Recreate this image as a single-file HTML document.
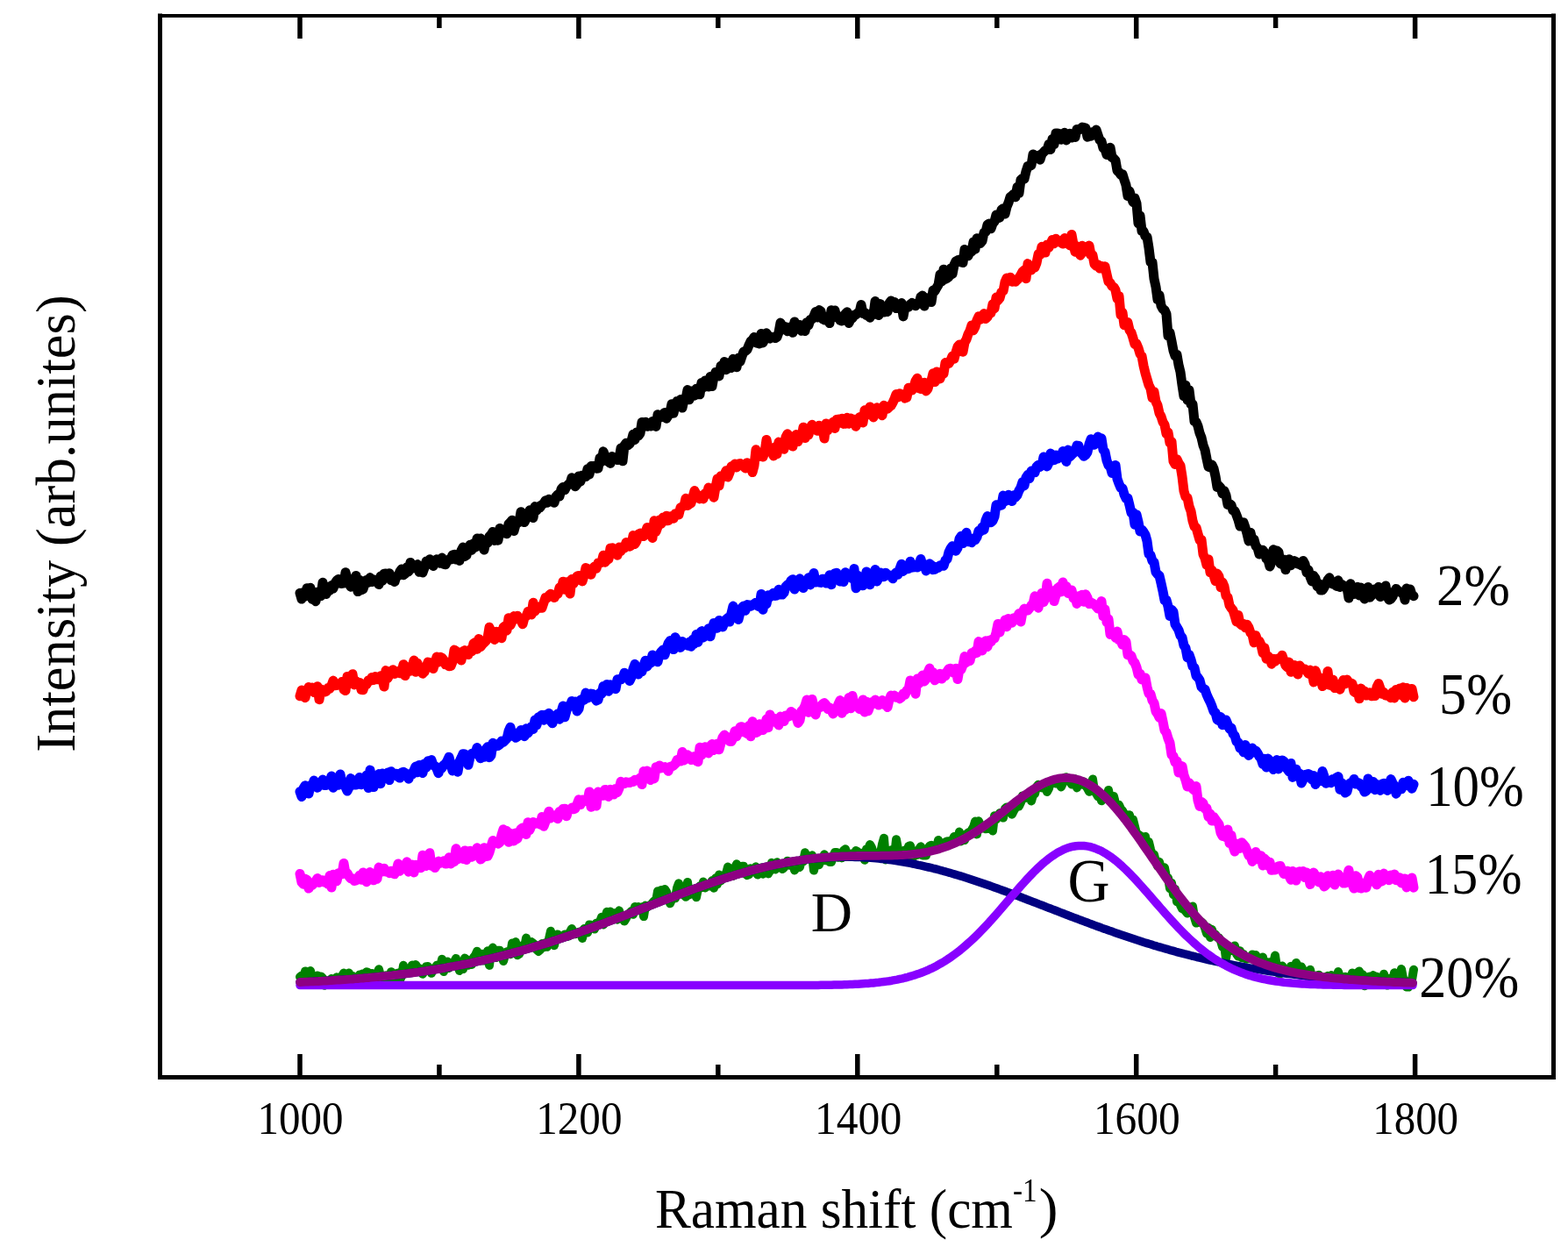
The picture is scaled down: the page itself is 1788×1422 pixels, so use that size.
<!DOCTYPE html>
<html><head><meta charset="utf-8"><style>
html,body{margin:0;padding:0;background:#fff;overflow:hidden}
svg{display:block}
text{font-family:"Liberation Serif","Times New Roman",serif;fill:#000}
</style></head><body>
<svg width="1788" height="1422" viewBox="0 0 1788 1422">
<rect width="1788" height="1422" fill="#fff"/>
<g fill="none" stroke-linejoin="round" stroke-linecap="round">
<path d="M342.0 676.2 L344.0 683.1 L346.0 675.6 L348.0 680.0 L350.0 670.7 L352.0 675.9 L354.0 670.3 L356.0 683.4 L358.0 680.1 L360.0 685.7 L362.0 675.3 L364.0 675.0 L366.0 679.6 L368.0 664.3 L370.0 670.7 L372.0 677.5 L374.0 672.7 L376.0 673.4 L378.0 667.6 L380.0 671.1 L382.0 665.1 L384.0 662.0 L386.0 660.5 L388.0 665.3 L390.0 665.4 L392.0 665.1 L394.0 652.8 L396.0 659.4 L398.0 665.8 L400.0 669.2 L402.0 664.8 L404.0 662.8 L406.0 656.5 L408.0 674.6 L410.0 661.4 L412.0 672.9 L414.0 671.9 L416.0 665.7 L418.0 661.4 L420.0 664.2 L422.0 658.6 L424.0 663.6 L426.0 660.9 L428.0 662.0 L430.0 663.3 L432.0 666.5 L434.0 657.1 L436.0 662.4 L438.0 654.2 L440.0 654.0 L442.0 655.5 L444.0 653.7 L446.0 661.7 L448.0 661.8 L450.0 663.5 L452.0 657.1 L454.0 656.7 L456.0 651.7 L458.0 648.9 L460.0 655.7 L462.0 654.3 L464.0 646.7 L466.0 651.8 L468.0 641.4 L470.0 648.3 L472.0 646.4 L474.0 646.3 L476.0 643.6 L478.0 652.3 L480.0 650.8 L482.0 652.9 L484.0 647.4 L486.0 640.1 L488.0 642.6 L490.0 637.7 L492.0 643.1 L494.0 645.5 L496.0 641.6 L498.0 637.8 L500.0 639.2 L502.0 642.3 L504.0 636.1 L506.0 643.4 L508.0 643.7 L510.0 639.7 L512.0 638.0 L514.0 638.1 L516.0 632.8 L518.0 632.4 L520.0 638.1 L522.0 634.4 L524.0 639.5 L526.0 627.9 L528.0 624.1 L530.0 634.5 L532.0 633.2 L534.0 625.0 L536.0 621.3 L538.0 627.2 L540.0 619.7 L542.0 624.1 L544.0 614.0 L546.0 621.1 L548.0 613.9 L550.0 621.8 L552.0 627.1 L554.0 616.9 L556.0 619.2 L558.0 611.8 L560.0 609.6 L562.0 606.4 L564.0 616.4 L566.0 610.7 L568.0 616.2 L570.0 602.5 L572.0 604.5 L574.0 604.1 L576.0 608.2 L578.0 608.7 L580.0 597.6 L582.0 595.5 L584.0 593.2 L586.0 605.6 L588.0 598.4 L590.0 594.5 L592.0 595.5 L594.0 583.7 L596.0 586.0 L598.0 595.6 L600.0 591.6 L602.0 588.7 L604.0 581.7 L606.0 586.4 L608.0 590.5 L610.0 577.6 L612.0 582.0 L614.0 577.9 L616.0 578.6 L618.0 575.4 L620.0 574.2 L622.0 570.7 L624.0 573.2 L626.0 569.3 L628.0 570.7 L630.0 570.8 L632.0 573.3 L634.0 566.2 L636.0 564.0 L638.0 566.1 L640.0 557.7 L642.0 555.5 L644.0 558.8 L646.0 554.8 L648.0 552.4 L650.0 551.6 L652.0 544.7 L654.0 551.2 L656.0 554.7 L658.0 552.1 L660.0 542.9 L662.0 549.1 L664.0 542.1 L666.0 543.5 L668.0 543.4 L670.0 534.7 L672.0 541.0 L674.0 531.5 L676.0 533.0 L678.0 531.3 L680.0 534.3 L682.0 534.0 L684.0 522.3 L686.0 526.6 L688.0 514.8 L690.0 520.4 L692.0 525.4 L694.0 526.9 L696.0 528.4 L698.0 520.6 L700.0 523.0 L702.0 521.5 L704.0 524.6 L706.0 522.7 L708.0 511.1 L710.0 525.8 L712.0 508.0 L714.0 505.2 L716.0 507.8 L718.0 506.2 L720.0 502.8 L722.0 495.2 L724.0 501.5 L726.0 493.0 L728.0 496.9 L730.0 494.2 L732.0 481.4 L734.0 481.8 L736.0 481.3 L738.0 486.3 L740.0 485.3 L742.0 485.8 L744.0 480.5 L746.0 484.2 L748.0 486.4 L750.0 472.7 L752.0 475.5 L754.0 475.7 L756.0 472.4 L758.0 470.4 L760.0 477.3 L762.0 473.9 L764.0 470.1 L766.0 460.7 L768.0 471.2 L770.0 462.4 L772.0 457.6 L774.0 457.6 L776.0 455.6 L778.0 465.1 L780.0 455.9 L782.0 454.6 L784.0 444.6 L786.0 455.8 L788.0 447.2 L790.0 445.7 L792.0 451.2 L794.0 443.3 L796.0 449.4 L798.0 449.8 L800.0 436.4 L802.0 441.8 L804.0 434.1 L806.0 438.8 L808.0 441.1 L810.0 429.5 L812.0 440.5 L814.0 429.6 L816.0 424.4 L818.0 427.2 L820.0 428.9 L822.0 417.3 L824.0 420.6 L826.0 412.5 L828.0 421.7 L830.0 416.4 L832.0 413.5 L834.0 419.5 L836.0 409.3 L838.0 411.7 L840.0 418.8 L842.0 408.2 L844.0 412.4 L846.0 406.2 L848.0 401.0 L850.0 400.4 L852.0 398.6 L854.0 393.6 L856.0 389.2 L858.0 387.7 L860.0 384.4 L862.0 390.9 L864.0 391.3 L866.0 391.9 L868.0 380.4 L870.0 390.9 L872.0 386.9 L874.0 379.8 L876.0 384.4 L878.0 386.0 L880.0 384.2 L882.0 384.9 L884.0 385.6 L886.0 384.5 L888.0 378.9 L890.0 368.1 L892.0 371.8 L894.0 375.8 L896.0 372.8 L898.0 377.8 L900.0 377.2 L902.0 372.5 L904.0 379.3 L906.0 367.0 L908.0 375.4 L910.0 370.5 L912.0 370.5 L914.0 377.3 L916.0 372.3 L918.0 377.6 L920.0 367.7 L922.0 370.8 L924.0 364.5 L926.0 363.9 L928.0 360.5 L930.0 355.5 L932.0 361.9 L934.0 353.6 L936.0 354.9 L938.0 363.7 L940.0 364.9 L942.0 363.6 L944.0 361.3 L946.0 368.6 L948.0 353.7 L950.0 355.3 L952.0 354.0 L954.0 362.1 L956.0 360.4 L958.0 365.3 L960.0 366.0 L962.0 361.2 L964.0 357.8 L966.0 355.7 L968.0 368.5 L970.0 363.7 L972.0 363.0 L974.0 359.3 L976.0 359.0 L978.0 356.9 L980.0 356.2 L982.0 347.5 L984.0 357.4 L986.0 356.3 L988.0 359.6 L990.0 359.8 L992.0 362.2 L994.0 357.1 L996.0 358.8 L998.0 343.5 L1000.0 348.7 L1002.0 359.5 L1004.0 346.6 L1006.0 351.2 L1008.0 356.1 L1010.0 349.5 L1012.0 355.6 L1014.0 345.7 L1016.0 343.0 L1018.0 345.4 L1020.0 344.4 L1022.0 351.6 L1024.0 350.0 L1026.0 351.8 L1028.0 345.6 L1030.0 360.9 L1032.0 349.7 L1034.0 349.0 L1036.0 350.1 L1038.0 347.1 L1040.0 345.5 L1042.0 347.4 L1044.0 348.8 L1046.0 346.0 L1048.0 346.0 L1050.0 338.5 L1052.0 337.1 L1054.0 349.1 L1056.0 339.7 L1058.0 342.1 L1060.0 342.5 L1062.0 344.5 L1064.0 331.1 L1066.0 331.9 L1068.0 328.2 L1070.0 324.9 L1072.0 313.0 L1074.0 320.8 L1076.0 307.2 L1078.0 318.4 L1080.0 317.2 L1082.0 315.6 L1084.0 306.1 L1086.0 312.6 L1088.0 302.1 L1090.0 297.8 L1092.0 296.8 L1094.0 296.1 L1096.0 299.0 L1098.0 299.6 L1100.0 284.4 L1102.0 288.0 L1104.0 291.8 L1106.0 287.3 L1108.0 286.7 L1110.0 275.9 L1112.0 284.1 L1114.0 271.7 L1116.0 276.4 L1118.0 277.3 L1120.0 274.8 L1122.0 265.3 L1124.0 264.4 L1126.0 256.2 L1128.0 255.0 L1130.0 260.8 L1132.0 255.0 L1134.0 252.7 L1136.0 244.9 L1138.0 248.8 L1140.0 248.1 L1142.0 239.2 L1144.0 237.7 L1146.0 244.1 L1148.0 235.9 L1150.0 231.2 L1152.0 224.5 L1154.0 223.2 L1156.0 221.2 L1158.0 224.7 L1160.0 213.3 L1162.0 220.2 L1164.0 205.0 L1166.0 203.4 L1168.0 204.1 L1170.0 195.4 L1172.0 189.4 L1174.0 189.4 L1176.0 188.5 L1178.0 175.9 L1180.0 179.3 L1182.0 178.6 L1184.0 177.3 L1186.0 182.2 L1188.0 175.7 L1190.0 173.7 L1192.0 171.4 L1194.0 170.7 L1196.0 164.5 L1198.0 170.5 L1200.0 158.5 L1202.0 164.6 L1204.0 151.9 L1206.0 151.9 L1208.0 152.5 L1210.0 159.2 L1212.0 155.2 L1214.0 151.3 L1216.0 159.9 L1218.0 154.3 L1220.0 152.2 L1222.0 157.1 L1224.0 154.7 L1226.0 156.5 L1228.0 147.4 L1230.0 148.3 L1232.0 147.2 L1234.0 145.1 L1236.0 145.5 L1238.0 146.1 L1240.0 156.2 L1242.0 154.5 L1244.0 155.2 L1246.0 150.6 L1248.0 151.8 L1250.0 148.1 L1252.0 154.0 L1254.0 159.7 L1256.0 161.2 L1258.0 168.9 L1260.0 170.0 L1262.0 176.5 L1264.0 172.1 L1266.0 168.3 L1268.0 179.4 L1270.0 180.7 L1272.0 182.9 L1274.0 194.6 L1276.0 196.2 L1278.0 199.3 L1280.0 198.7 L1282.0 205.1 L1284.0 211.1 L1286.0 223.5 L1288.0 218.0 L1290.0 224.9 L1292.0 230.4 L1294.0 225.9 L1296.0 231.9 L1298.0 254.8 L1300.0 246.0 L1302.0 263.3 L1304.0 263.7 L1306.0 269.4 L1308.0 270.2 L1310.0 282.6 L1312.0 298.7 L1314.0 299.2 L1316.0 317.8 L1318.0 327.1 L1320.0 341.7 L1322.0 336.3 L1324.0 348.6 L1326.0 352.3 L1328.0 353.6 L1330.0 358.0 L1332.0 383.0 L1334.0 379.4 L1336.0 389.2 L1338.0 399.7 L1340.0 405.8 L1342.0 404.3 L1344.0 416.1 L1346.0 424.2 L1348.0 438.9 L1350.0 451.9 L1352.0 439.5 L1354.0 456.2 L1356.0 444.9 L1358.0 461.0 L1360.0 460.8 L1362.0 480.4 L1364.0 481.0 L1366.0 485.8 L1368.0 493.8 L1370.0 499.0 L1372.0 507.8 L1374.0 512.9 L1376.0 523.1 L1378.0 532.2 L1380.0 533.1 L1382.0 530.0 L1384.0 534.3 L1386.0 543.2 L1388.0 555.5 L1390.0 554.0 L1392.0 556.3 L1394.0 562.8 L1396.0 559.7 L1398.0 564.8 L1400.0 575.4 L1402.0 574.5 L1404.0 576.0 L1406.0 582.2 L1408.0 582.7 L1410.0 587.4 L1412.0 592.8 L1414.0 600.1 L1416.0 599.5 L1418.0 595.7 L1420.0 601.5 L1422.0 608.4 L1424.0 617.0 L1426.0 607.5 L1428.0 615.8 L1430.0 615.2 L1432.0 622.6 L1434.0 624.7 L1436.0 632.0 L1438.0 629.9 L1440.0 627.3 L1442.0 630.2 L1444.0 637.2 L1446.0 638.5 L1448.0 646.1 L1450.0 640.9 L1452.0 626.8 L1454.0 633.0 L1456.0 627.9 L1458.0 629.7 L1460.0 642.7 L1462.0 643.8 L1464.0 638.0 L1466.0 649.7 L1468.0 638.7 L1470.0 637.7 L1472.0 644.8 L1474.0 641.8 L1476.0 639.6 L1478.0 640.6 L1480.0 643.2 L1482.0 643.2 L1484.0 644.9 L1486.0 639.5 L1488.0 643.1 L1490.0 653.0 L1492.0 649.9 L1494.0 658.0 L1496.0 662.9 L1498.0 656.6 L1500.0 659.4 L1502.0 668.5 L1504.0 665.6 L1506.0 673.0 L1508.0 672.9 L1510.0 669.9 L1512.0 665.9 L1514.0 661.4 L1516.0 658.8 L1518.0 665.1 L1520.0 666.1 L1522.0 664.4 L1524.0 668.4 L1526.0 661.8 L1528.0 669.4 L1530.0 666.4 L1532.0 667.8 L1534.0 669.2 L1536.0 670.0 L1538.0 682.0 L1540.0 665.8 L1542.0 673.7 L1544.0 677.4 L1546.0 674.0 L1548.0 669.3 L1550.0 679.0 L1552.0 670.1 L1554.0 672.6 L1556.0 683.0 L1558.0 674.9 L1560.0 669.4 L1562.0 681.2 L1564.0 679.0 L1566.0 677.5 L1568.0 671.8 L1570.0 674.4 L1572.0 669.3 L1574.0 680.6 L1576.0 677.3 L1578.0 678.2 L1580.0 668.0 L1582.0 680.5 L1584.0 684.0 L1586.0 683.0 L1588.0 680.3 L1590.0 675.0 L1592.0 671.4 L1594.0 674.4 L1596.0 674.4 L1598.0 676.1 L1600.0 675.6 L1602.0 684.1 L1604.0 671.0 L1606.0 674.7 L1608.0 671.9 L1610.0 678.4 L1612.0 679.7" stroke="#000000" stroke-width="11.0"/>
<path d="M342.0 793.8 L344.0 787.0 L346.0 790.6 L348.0 795.7 L350.0 787.5 L352.0 783.6 L354.0 787.8 L356.0 784.0 L358.0 789.4 L360.0 785.0 L362.0 782.7 L364.0 797.7 L366.0 786.0 L368.0 789.4 L370.0 789.1 L372.0 788.3 L374.0 784.6 L376.0 785.3 L378.0 781.7 L380.0 776.1 L382.0 781.7 L384.0 781.6 L386.0 780.4 L388.0 780.5 L390.0 777.4 L392.0 786.3 L394.0 787.6 L396.0 771.4 L398.0 780.2 L400.0 777.0 L402.0 768.7 L404.0 780.9 L406.0 776.8 L408.0 778.7 L410.0 778.6 L412.0 786.5 L414.0 786.7 L416.0 780.9 L418.0 780.5 L420.0 775.8 L422.0 776.5 L424.0 772.6 L426.0 775.4 L428.0 771.6 L430.0 774.7 L432.0 774.5 L434.0 770.8 L436.0 774.9 L438.0 783.1 L440.0 764.6 L442.0 773.6 L444.0 769.9 L446.0 768.8 L448.0 763.7 L450.0 768.4 L452.0 766.4 L454.0 765.3 L456.0 767.7 L458.0 766.3 L460.0 757.7 L462.0 770.6 L464.0 764.0 L466.0 760.7 L468.0 765.2 L470.0 760.1 L472.0 753.1 L474.0 766.2 L476.0 756.1 L478.0 762.6 L480.0 763.8 L482.0 768.2 L484.0 766.2 L486.0 760.3 L488.0 755.1 L490.0 755.6 L492.0 760.9 L494.0 762.5 L496.0 755.6 L498.0 749.1 L500.0 755.1 L502.0 749.2 L504.0 750.2 L506.0 752.5 L508.0 757.7 L510.0 757.2 L512.0 759.8 L514.0 759.6 L516.0 754.6 L518.0 741.1 L520.0 742.2 L522.0 748.1 L524.0 745.3 L526.0 752.9 L528.0 742.6 L530.0 741.6 L532.0 746.0 L534.0 746.5 L536.0 740.9 L538.0 742.7 L540.0 733.8 L542.0 732.4 L544.0 740.2 L546.0 728.6 L548.0 737.6 L550.0 735.0 L552.0 732.9 L554.0 731.0 L556.0 727.6 L558.0 715.3 L560.0 720.1 L562.0 722.6 L564.0 729.5 L566.0 720.3 L568.0 720.8 L570.0 721.2 L572.0 727.7 L574.0 715.3 L576.0 713.7 L578.0 719.1 L580.0 704.7 L582.0 713.1 L584.0 708.5 L586.0 702.6 L588.0 705.9 L590.0 702.2 L592.0 706.5 L594.0 707.3 L596.0 711.8 L598.0 704.3 L600.0 702.8 L602.0 697.6 L604.0 698.0 L606.0 700.9 L608.0 687.3 L610.0 697.3 L612.0 691.6 L614.0 693.5 L616.0 693.3 L618.0 693.2 L620.0 687.3 L622.0 681.4 L624.0 681.9 L626.0 679.0 L628.0 677.3 L630.0 678.8 L632.0 681.6 L634.0 678.2 L636.0 677.6 L638.0 670.1 L640.0 672.7 L642.0 663.2 L644.0 672.2 L646.0 663.7 L648.0 671.6 L650.0 677.0 L652.0 660.5 L654.0 665.7 L656.0 660.9 L658.0 657.2 L660.0 656.4 L662.0 661.4 L664.0 662.9 L666.0 656.6 L668.0 647.5 L670.0 648.6 L672.0 650.8 L674.0 655.3 L676.0 648.2 L678.0 646.0 L680.0 648.3 L682.0 642.0 L684.0 642.3 L686.0 641.1 L688.0 633.2 L690.0 641.2 L692.0 638.6 L694.0 637.6 L696.0 625.2 L698.0 624.8 L700.0 631.2 L702.0 628.4 L704.0 633.2 L706.0 624.1 L708.0 628.5 L710.0 623.7 L712.0 625.1 L714.0 618.5 L716.0 620.9 L718.0 623.1 L720.0 621.8 L722.0 610.6 L724.0 620.5 L726.0 616.8 L728.0 609.1 L730.0 608.1 L732.0 610.3 L734.0 611.6 L736.0 606.9 L738.0 601.5 L740.0 608.6 L742.0 606.7 L744.0 613.4 L746.0 593.7 L748.0 606.2 L750.0 600.9 L752.0 593.1 L754.0 597.2 L756.0 590.0 L758.0 594.1 L760.0 588.2 L762.0 593.7 L764.0 591.0 L766.0 588.5 L768.0 591.3 L770.0 585.8 L772.0 587.1 L774.0 587.0 L776.0 578.8 L778.0 577.9 L780.0 576.9 L782.0 568.3 L784.0 576.5 L786.0 575.1 L788.0 573.7 L790.0 566.7 L792.0 559.6 L794.0 563.7 L796.0 564.5 L798.0 568.8 L800.0 568.2 L802.0 568.9 L804.0 562.5 L806.0 563.6 L808.0 556.0 L810.0 558.6 L812.0 559.9 L814.0 567.2 L816.0 555.3 L818.0 545.9 L820.0 554.0 L822.0 542.7 L824.0 543.9 L826.0 541.2 L828.0 536.7 L830.0 544.1 L832.0 539.0 L834.0 531.8 L836.0 532.5 L838.0 529.0 L840.0 532.9 L842.0 529.1 L844.0 528.5 L846.0 530.2 L848.0 531.7 L850.0 534.1 L852.0 527.7 L854.0 530.0 L856.0 531.5 L858.0 538.6 L860.0 530.8 L862.0 512.8 L864.0 521.0 L866.0 518.6 L868.0 518.4 L870.0 521.1 L872.0 515.7 L874.0 501.4 L876.0 511.9 L878.0 511.8 L880.0 514.7 L882.0 519.9 L884.0 509.7 L886.0 517.7 L888.0 504.1 L890.0 508.7 L892.0 507.2 L894.0 512.3 L896.0 498.3 L898.0 494.7 L900.0 506.2 L902.0 500.9 L904.0 509.1 L906.0 497.6 L908.0 495.5 L910.0 503.6 L912.0 497.3 L914.0 499.1 L916.0 487.2 L918.0 499.6 L920.0 490.4 L922.0 496.1 L924.0 487.6 L926.0 484.2 L928.0 488.0 L930.0 487.6 L932.0 491.3 L934.0 485.2 L936.0 487.6 L938.0 489.1 L940.0 500.1 L942.0 482.9 L944.0 490.6 L946.0 483.9 L948.0 485.0 L950.0 481.2 L952.0 488.4 L954.0 478.4 L956.0 478.1 L958.0 482.3 L960.0 477.2 L962.0 483.4 L964.0 483.2 L966.0 476.2 L968.0 483.2 L970.0 477.0 L972.0 478.7 L974.0 478.3 L976.0 486.3 L978.0 479.2 L980.0 475.8 L982.0 475.0 L984.0 481.9 L986.0 467.8 L988.0 472.2 L990.0 472.8 L992.0 463.9 L994.0 471.2 L996.0 476.0 L998.0 471.2 L1000.0 464.8 L1002.0 469.8 L1004.0 467.9 L1006.0 473.8 L1008.0 462.3 L1010.0 464.3 L1012.0 466.2 L1014.0 464.1 L1016.0 462.6 L1018.0 459.2 L1020.0 454.7 L1022.0 449.4 L1024.0 452.9 L1026.0 448.7 L1028.0 449.7 L1030.0 451.1 L1032.0 454.1 L1034.0 453.2 L1036.0 442.2 L1038.0 444.8 L1040.0 445.1 L1042.0 441.2 L1044.0 434.4 L1046.0 431.3 L1048.0 442.8 L1050.0 443.4 L1052.0 441.5 L1054.0 436.2 L1056.0 445.9 L1058.0 443.3 L1060.0 436.2 L1062.0 434.1 L1064.0 425.7 L1066.0 435.6 L1068.0 424.0 L1070.0 432.4 L1072.0 431.7 L1074.0 425.5 L1076.0 426.1 L1078.0 413.6 L1080.0 414.9 L1082.0 414.4 L1084.0 410.9 L1086.0 406.0 L1088.0 409.3 L1090.0 401.6 L1092.0 395.3 L1094.0 392.9 L1096.0 393.0 L1098.0 401.2 L1100.0 390.5 L1102.0 387.0 L1104.0 381.0 L1106.0 377.2 L1108.0 371.0 L1110.0 376.7 L1112.0 372.6 L1114.0 365.0 L1116.0 360.8 L1118.0 364.2 L1120.0 362.1 L1122.0 357.5 L1124.0 363.5 L1126.0 361.4 L1128.0 357.6 L1130.0 356.9 L1132.0 346.7 L1134.0 351.8 L1136.0 339.1 L1138.0 342.6 L1140.0 339.9 L1142.0 332.8 L1144.0 332.0 L1146.0 321.5 L1148.0 317.1 L1150.0 319.9 L1152.0 316.2 L1154.0 321.3 L1156.0 318.8 L1158.0 321.2 L1160.0 319.2 L1162.0 316.7 L1164.0 313.6 L1166.0 309.7 L1168.0 308.1 L1170.0 317.7 L1172.0 300.6 L1174.0 305.5 L1176.0 308.0 L1178.0 302.9 L1180.0 305.0 L1182.0 299.9 L1184.0 290.1 L1186.0 290.2 L1188.0 281.3 L1190.0 287.9 L1192.0 288.0 L1194.0 279.0 L1196.0 282.3 L1198.0 277.7 L1200.0 273.4 L1202.0 277.7 L1204.0 272.2 L1206.0 274.7 L1208.0 276.0 L1210.0 276.6 L1212.0 278.1 L1214.0 271.6 L1216.0 275.2 L1218.0 277.6 L1220.0 279.9 L1222.0 267.5 L1224.0 278.5 L1226.0 287.2 L1228.0 280.8 L1230.0 287.9 L1232.0 291.3 L1234.0 280.2 L1236.0 286.6 L1238.0 287.0 L1240.0 285.6 L1242.0 280.1 L1244.0 290.6 L1246.0 291.0 L1248.0 301.1 L1250.0 303.2 L1252.0 301.6 L1254.0 306.1 L1256.0 303.6 L1258.0 305.1 L1260.0 303.8 L1262.0 312.8 L1264.0 321.2 L1266.0 322.7 L1268.0 326.3 L1270.0 327.3 L1272.0 330.8 L1274.0 340.6 L1276.0 337.4 L1278.0 359.2 L1280.0 356.3 L1282.0 370.7 L1284.0 370.5 L1286.0 367.6 L1288.0 376.5 L1290.0 379.2 L1292.0 385.4 L1294.0 392.5 L1296.0 392.1 L1298.0 396.8 L1300.0 403.5 L1302.0 406.1 L1304.0 417.1 L1306.0 425.5 L1308.0 432.4 L1310.0 439.1 L1312.0 443.1 L1314.0 453.8 L1316.0 446.8 L1318.0 458.0 L1320.0 462.1 L1322.0 471.1 L1324.0 474.8 L1326.0 481.2 L1328.0 484.4 L1330.0 494.8 L1332.0 493.1 L1334.0 505.0 L1336.0 503.6 L1338.0 525.9 L1340.0 529.4 L1342.0 523.7 L1344.0 527.9 L1346.0 531.0 L1348.0 543.4 L1350.0 560.0 L1352.0 566.7 L1354.0 567.5 L1356.0 577.4 L1358.0 582.8 L1360.0 593.9 L1362.0 600.5 L1364.0 601.6 L1366.0 608.7 L1368.0 615.7 L1370.0 615.4 L1372.0 632.2 L1374.0 636.5 L1376.0 644.3 L1378.0 637.8 L1380.0 652.8 L1382.0 650.1 L1384.0 656.3 L1386.0 662.6 L1388.0 654.0 L1390.0 657.3 L1392.0 669.7 L1394.0 664.0 L1396.0 668.7 L1398.0 679.6 L1400.0 681.0 L1402.0 690.3 L1404.0 693.4 L1406.0 695.8 L1408.0 702.2 L1410.0 708.9 L1412.0 701.6 L1414.0 711.3 L1416.0 712.9 L1418.0 711.5 L1420.0 715.7 L1422.0 712.3 L1424.0 715.6 L1426.0 721.7 L1428.0 723.5 L1430.0 732.8 L1432.0 724.7 L1434.0 730.7 L1436.0 730.9 L1438.0 735.5 L1440.0 744.6 L1442.0 738.8 L1444.0 751.2 L1446.0 748.1 L1448.0 750.9 L1450.0 757.2 L1452.0 751.2 L1454.0 754.2 L1456.0 751.4 L1458.0 750.8 L1460.0 751.4 L1462.0 747.3 L1464.0 753.2 L1466.0 758.9 L1468.0 760.9 L1470.0 755.1 L1472.0 766.3 L1474.0 765.0 L1476.0 758.5 L1478.0 761.5 L1480.0 769.0 L1482.0 758.9 L1484.0 761.6 L1486.0 763.2 L1488.0 763.1 L1490.0 764.9 L1492.0 768.3 L1494.0 764.1 L1496.0 766.1 L1498.0 777.9 L1500.0 764.7 L1502.0 770.3 L1504.0 774.6 L1506.0 773.2 L1508.0 782.6 L1510.0 778.4 L1512.0 780.6 L1514.0 765.5 L1516.0 781.2 L1518.0 781.6 L1520.0 774.9 L1522.0 784.6 L1524.0 780.1 L1526.0 782.3 L1528.0 786.2 L1530.0 779.7 L1532.0 775.4 L1534.0 779.7 L1536.0 775.0 L1538.0 778.0 L1540.0 778.8 L1542.0 779.6 L1544.0 788.9 L1546.0 790.1 L1548.0 785.9 L1550.0 796.7 L1552.0 785.1 L1554.0 787.8 L1556.0 788.2 L1558.0 793.1 L1560.0 790.9 L1562.0 789.8 L1564.0 793.8 L1566.0 791.6 L1568.0 793.6 L1570.0 783.5 L1572.0 779.4 L1574.0 785.3 L1576.0 791.3 L1578.0 789.6 L1580.0 793.0 L1582.0 793.2 L1584.0 793.6 L1586.0 795.8 L1588.0 789.3 L1590.0 796.0 L1592.0 786.4 L1594.0 790.2 L1596.0 784.9 L1598.0 792.8 L1600.0 783.8 L1602.0 796.1 L1604.0 784.5 L1606.0 790.9 L1608.0 788.7 L1610.0 785.4 L1612.0 794.8" stroke="#ff0000" stroke-width="11.0"/>
<path d="M342.0 902.7 L344.0 908.6 L346.0 898.9 L348.0 895.8 L350.0 902.8 L352.0 905.1 L354.0 895.7 L356.0 897.5 L358.0 890.0 L360.0 894.2 L362.0 898.2 L364.0 894.3 L366.0 892.7 L368.0 889.1 L370.0 895.5 L372.0 895.5 L374.0 893.3 L376.0 891.4 L378.0 885.0 L380.0 898.2 L382.0 891.6 L384.0 891.8 L386.0 895.3 L388.0 883.0 L390.0 892.7 L392.0 894.0 L394.0 897.5 L396.0 902.1 L398.0 898.1 L400.0 887.6 L402.0 893.0 L404.0 894.9 L406.0 894.9 L408.0 889.0 L410.0 886.6 L412.0 894.7 L414.0 892.8 L416.0 890.9 L418.0 884.0 L420.0 898.5 L422.0 878.1 L424.0 887.9 L426.0 897.6 L428.0 887.4 L430.0 888.4 L432.0 882.6 L434.0 893.7 L436.0 881.9 L438.0 887.0 L440.0 885.8 L442.0 881.1 L444.0 889.6 L446.0 879.7 L448.0 881.9 L450.0 884.0 L452.0 882.3 L454.0 886.0 L456.0 887.1 L458.0 881.1 L460.0 880.2 L462.0 881.6 L464.0 883.3 L466.0 888.2 L468.0 882.6 L470.0 883.0 L472.0 878.6 L474.0 874.0 L476.0 880.8 L478.0 872.4 L480.0 876.0 L482.0 881.6 L484.0 870.9 L486.0 875.2 L488.0 867.8 L490.0 871.0 L492.0 866.6 L494.0 872.7 L496.0 873.5 L498.0 876.5 L500.0 881.7 L502.0 875.0 L504.0 875.8 L506.0 872.3 L508.0 870.8 L510.0 867.6 L512.0 863.2 L514.0 871.4 L516.0 878.9 L518.0 875.5 L520.0 872.1 L522.0 880.2 L524.0 868.4 L526.0 864.2 L528.0 859.7 L530.0 860.0 L532.0 862.8 L534.0 872.3 L536.0 863.3 L538.0 859.1 L540.0 858.9 L542.0 858.9 L544.0 852.5 L546.0 861.3 L548.0 864.8 L550.0 863.2 L552.0 863.3 L554.0 854.2 L556.0 851.8 L558.0 863.7 L560.0 861.2 L562.0 847.3 L564.0 851.6 L566.0 848.8 L568.0 850.4 L570.0 848.9 L572.0 845.0 L574.0 846.2 L576.0 844.3 L578.0 842.2 L580.0 833.8 L582.0 829.2 L584.0 839.3 L586.0 835.6 L588.0 841.3 L590.0 840.1 L592.0 835.8 L594.0 832.6 L596.0 835.0 L598.0 839.7 L600.0 830.8 L602.0 836.1 L604.0 833.0 L606.0 828.6 L608.0 831.5 L610.0 821.0 L612.0 826.9 L614.0 817.8 L616.0 817.2 L618.0 815.2 L620.0 821.2 L622.0 815.1 L624.0 818.7 L626.0 813.3 L628.0 822.3 L630.0 824.8 L632.0 816.2 L634.0 819.9 L636.0 813.9 L638.0 820.2 L640.0 811.7 L642.0 805.0 L644.0 817.8 L646.0 810.3 L648.0 805.3 L650.0 805.3 L652.0 799.4 L654.0 804.2 L656.0 800.0 L658.0 811.1 L660.0 808.3 L662.0 798.3 L664.0 797.1 L666.0 798.2 L668.0 790.0 L670.0 796.0 L672.0 795.1 L674.0 791.1 L676.0 791.5 L678.0 795.7 L680.0 799.0 L682.0 798.1 L684.0 790.1 L686.0 791.2 L688.0 782.5 L690.0 786.1 L692.0 780.4 L694.0 788.3 L696.0 780.7 L698.0 781.7 L700.0 784.9 L702.0 785.7 L704.0 774.7 L706.0 775.2 L708.0 774.9 L710.0 773.0 L712.0 767.3 L714.0 770.8 L716.0 769.4 L718.0 776.5 L720.0 772.2 L722.0 762.7 L724.0 757.3 L726.0 765.5 L728.0 769.0 L730.0 763.8 L732.0 765.8 L734.0 758.7 L736.0 753.2 L738.0 759.9 L740.0 755.1 L742.0 756.0 L744.0 746.9 L746.0 753.9 L748.0 750.5 L750.0 754.8 L752.0 746.1 L754.0 743.2 L756.0 741.1 L758.0 746.8 L760.0 739.4 L762.0 733.7 L764.0 730.8 L766.0 730.1 L768.0 740.6 L770.0 726.7 L772.0 730.7 L774.0 736.8 L776.0 738.4 L778.0 731.6 L780.0 734.7 L782.0 734.7 L784.0 736.2 L786.0 732.1 L788.0 737.3 L790.0 729.3 L792.0 734.1 L794.0 723.5 L796.0 732.3 L798.0 722.1 L800.0 719.6 L802.0 726.9 L804.0 720.7 L806.0 725.0 L808.0 716.7 L810.0 725.8 L812.0 717.1 L814.0 710.4 L816.0 714.5 L818.0 716.2 L820.0 707.4 L822.0 710.4 L824.0 715.0 L826.0 709.5 L828.0 706.3 L830.0 704.5 L832.0 709.1 L834.0 699.2 L836.0 691.1 L838.0 699.3 L840.0 696.0 L842.0 706.5 L844.0 698.6 L846.0 692.9 L848.0 690.9 L850.0 696.3 L852.0 689.6 L854.0 690.0 L856.0 691.2 L858.0 690.3 L860.0 688.5 L862.0 687.2 L864.0 691.0 L866.0 691.7 L868.0 677.4 L870.0 695.3 L872.0 684.8 L874.0 688.8 L876.0 678.8 L878.0 680.8 L880.0 678.0 L882.0 676.3 L884.0 679.4 L886.0 679.0 L888.0 672.3 L890.0 675.6 L892.0 678.1 L894.0 675.9 L896.0 668.9 L898.0 666.9 L900.0 666.4 L902.0 662.0 L904.0 660.7 L906.0 672.1 L908.0 663.3 L910.0 664.4 L912.0 659.8 L914.0 668.3 L916.0 670.6 L918.0 662.6 L920.0 665.5 L922.0 658.8 L924.0 666.9 L926.0 661.2 L928.0 653.5 L930.0 664.0 L932.0 662.4 L934.0 664.1 L936.0 664.4 L938.0 660.2 L940.0 660.7 L942.0 665.0 L944.0 661.0 L946.0 655.7 L948.0 666.7 L950.0 656.0 L952.0 653.8 L954.0 653.3 L956.0 660.2 L958.0 663.1 L960.0 661.3 L962.0 663.6 L964.0 652.7 L966.0 656.9 L968.0 656.4 L970.0 658.3 L972.0 659.8 L974.0 648.6 L976.0 670.8 L978.0 656.2 L980.0 663.9 L982.0 667.5 L984.0 667.8 L986.0 665.2 L988.0 651.9 L990.0 659.4 L992.0 666.8 L994.0 658.9 L996.0 656.8 L998.0 649.5 L1000.0 663.0 L1002.0 659.1 L1004.0 653.0 L1006.0 656.8 L1008.0 657.7 L1010.0 653.2 L1012.0 655.3 L1014.0 656.0 L1016.0 656.8 L1018.0 659.8 L1020.0 654.9 L1022.0 652.8 L1024.0 655.3 L1026.0 648.6 L1028.0 643.2 L1030.0 651.4 L1032.0 644.9 L1034.0 647.3 L1036.0 648.7 L1038.0 640.2 L1040.0 647.2 L1042.0 646.8 L1044.0 644.8 L1046.0 647.1 L1048.0 642.8 L1050.0 637.4 L1052.0 645.8 L1054.0 643.4 L1056.0 650.9 L1058.0 647.5 L1060.0 642.8 L1062.0 644.3 L1064.0 649.7 L1066.0 649.3 L1068.0 646.7 L1070.0 647.4 L1072.0 644.6 L1074.0 644.4 L1076.0 645.3 L1078.0 638.9 L1080.0 637.6 L1082.0 629.6 L1084.0 625.5 L1086.0 622.7 L1088.0 624.4 L1090.0 628.2 L1092.0 624.9 L1094.0 614.5 L1096.0 611.3 L1098.0 619.6 L1100.0 616.2 L1102.0 607.3 L1104.0 617.7 L1106.0 614.3 L1108.0 618.7 L1110.0 613.9 L1112.0 615.7 L1114.0 612.4 L1116.0 605.3 L1118.0 605.8 L1120.0 601.0 L1122.0 604.2 L1124.0 593.3 L1126.0 588.5 L1128.0 595.9 L1130.0 595.7 L1132.0 593.9 L1134.0 589.2 L1136.0 575.8 L1138.0 577.3 L1140.0 576.0 L1142.0 576.2 L1144.0 565.1 L1146.0 571.7 L1148.0 570.7 L1150.0 564.3 L1152.0 568.2 L1154.0 571.6 L1156.0 564.8 L1158.0 566.9 L1160.0 564.6 L1162.0 559.3 L1164.0 556.0 L1166.0 549.7 L1168.0 553.9 L1170.0 544.5 L1172.0 541.5 L1174.0 545.5 L1176.0 537.1 L1178.0 539.1 L1180.0 538.9 L1182.0 532.2 L1184.0 530.3 L1186.0 532.2 L1188.0 530.8 L1190.0 521.0 L1192.0 521.5 L1194.0 531.9 L1196.0 527.6 L1198.0 517.1 L1200.0 519.8 L1202.0 524.7 L1204.0 518.9 L1206.0 523.0 L1208.0 519.8 L1210.0 521.2 L1212.0 514.6 L1214.0 522.0 L1216.0 526.4 L1218.0 513.1 L1220.0 520.7 L1222.0 518.6 L1224.0 516.9 L1226.0 513.5 L1228.0 508.1 L1230.0 508.5 L1232.0 515.5 L1234.0 517.7 L1236.0 520.2 L1238.0 518.6 L1240.0 515.6 L1242.0 506.4 L1244.0 500.8 L1246.0 506.0 L1248.0 507.2 L1250.0 505.2 L1252.0 498.0 L1254.0 501.8 L1256.0 499.8 L1258.0 512.8 L1260.0 515.4 L1262.0 525.2 L1264.0 530.6 L1266.0 531.9 L1268.0 539.4 L1270.0 532.0 L1272.0 530.4 L1274.0 546.2 L1276.0 551.6 L1278.0 556.2 L1280.0 556.8 L1282.0 563.9 L1284.0 568.3 L1286.0 568.2 L1288.0 576.1 L1290.0 584.9 L1292.0 584.3 L1294.0 598.3 L1296.0 586.9 L1298.0 595.0 L1300.0 606.1 L1302.0 604.0 L1304.0 606.5 L1306.0 609.8 L1308.0 617.0 L1310.0 631.7 L1312.0 633.1 L1314.0 639.7 L1316.0 641.2 L1318.0 652.4 L1320.0 654.9 L1322.0 656.5 L1324.0 664.9 L1326.0 674.2 L1328.0 684.4 L1330.0 684.3 L1332.0 691.5 L1334.0 702.6 L1336.0 695.2 L1338.0 697.7 L1340.0 711.9 L1342.0 715.2 L1344.0 718.5 L1346.0 724.8 L1348.0 727.0 L1350.0 736.1 L1352.0 738.9 L1354.0 749.8 L1356.0 746.5 L1358.0 752.2 L1360.0 759.9 L1362.0 761.4 L1364.0 770.7 L1366.0 772.6 L1368.0 775.5 L1370.0 783.3 L1372.0 785.2 L1374.0 786.0 L1376.0 792.0 L1378.0 796.5 L1380.0 800.5 L1382.0 805.4 L1384.0 811.3 L1386.0 812.6 L1388.0 820.8 L1390.0 821.7 L1392.0 817.6 L1394.0 826.7 L1396.0 826.1 L1398.0 820.9 L1400.0 826.0 L1402.0 831.1 L1404.0 830.0 L1406.0 836.8 L1408.0 838.8 L1410.0 845.6 L1412.0 846.6 L1414.0 853.2 L1416.0 852.0 L1418.0 857.8 L1420.0 849.5 L1422.0 858.9 L1424.0 861.5 L1426.0 856.2 L1428.0 853.1 L1430.0 858.0 L1432.0 855.9 L1434.0 858.8 L1436.0 862.7 L1438.0 865.0 L1440.0 871.3 L1442.0 865.3 L1444.0 875.0 L1446.0 865.1 L1448.0 868.5 L1450.0 871.7 L1452.0 877.5 L1454.0 871.6 L1456.0 866.5 L1458.0 876.9 L1460.0 872.8 L1462.0 866.9 L1464.0 868.0 L1466.0 871.9 L1468.0 877.2 L1470.0 879.9 L1472.0 870.5 L1474.0 886.4 L1476.0 877.6 L1478.0 877.3 L1480.0 883.0 L1482.0 882.1 L1484.0 893.0 L1486.0 889.0 L1488.0 883.4 L1490.0 883.1 L1492.0 882.5 L1494.0 883.6 L1496.0 889.0 L1498.0 884.6 L1500.0 894.5 L1502.0 886.7 L1504.0 885.8 L1506.0 890.6 L1508.0 879.5 L1510.0 885.4 L1512.0 893.2 L1514.0 891.6 L1516.0 891.5 L1518.0 892.7 L1520.0 888.4 L1522.0 890.8 L1524.0 886.6 L1526.0 885.6 L1528.0 900.5 L1530.0 892.8 L1532.0 894.6 L1534.0 904.1 L1536.0 902.7 L1538.0 894.7 L1540.0 892.7 L1542.0 893.0 L1544.0 888.4 L1546.0 894.1 L1548.0 892.4 L1550.0 893.2 L1552.0 897.1 L1554.0 897.9 L1556.0 903.1 L1558.0 901.8 L1560.0 888.0 L1562.0 899.2 L1564.0 891.7 L1566.0 891.4 L1568.0 900.7 L1570.0 894.6 L1572.0 895.8 L1574.0 901.4 L1576.0 894.1 L1578.0 893.2 L1580.0 898.2 L1582.0 901.4 L1584.0 897.7 L1586.0 888.6 L1588.0 892.9 L1590.0 896.0 L1592.0 905.2 L1594.0 900.4 L1596.0 899.4 L1598.0 899.7 L1600.0 892.3 L1602.0 895.2 L1604.0 895.6 L1606.0 890.2 L1608.0 895.3 L1610.0 899.2 L1612.0 894.3" stroke="#0000ff" stroke-width="11.0"/>
<path d="M342.0 996.4 L344.0 1006.1 L346.0 1008.3 L348.0 1002.3 L350.0 1003.4 L352.0 1013.1 L354.0 1009.3 L356.0 1009.4 L358.0 1007.3 L360.0 1004.6 L362.0 1001.6 L364.0 1006.5 L366.0 1003.8 L368.0 1003.7 L370.0 1006.1 L372.0 1005.6 L374.0 1008.2 L376.0 998.5 L378.0 1012.0 L380.0 997.2 L382.0 999.9 L384.0 1004.8 L386.0 995.6 L388.0 995.4 L390.0 996.8 L392.0 984.5 L394.0 996.2 L396.0 995.7 L398.0 999.4 L400.0 1002.0 L402.0 1001.7 L404.0 1004.5 L406.0 1003.9 L408.0 1002.3 L410.0 998.3 L412.0 1003.3 L414.0 994.9 L416.0 998.9 L418.0 1005.7 L420.0 1003.3 L422.0 994.5 L424.0 998.0 L426.0 1003.8 L428.0 1001.5 L430.0 1002.2 L432.0 989.1 L434.0 990.4 L436.0 993.9 L438.0 990.2 L440.0 994.1 L442.0 994.3 L444.0 995.5 L446.0 993.2 L448.0 996.1 L450.0 996.7 L452.0 992.8 L454.0 984.9 L456.0 993.3 L458.0 986.9 L460.0 987.4 L462.0 987.8 L464.0 982.8 L466.0 994.2 L468.0 989.5 L470.0 986.0 L472.0 994.9 L474.0 986.3 L476.0 986.8 L478.0 987.6 L480.0 989.8 L482.0 975.2 L484.0 980.4 L486.0 987.4 L488.0 982.8 L490.0 972.7 L492.0 987.3 L494.0 987.5 L496.0 989.5 L498.0 986.1 L500.0 982.1 L502.0 984.2 L504.0 983.3 L506.0 981.8 L508.0 985.0 L510.0 984.7 L512.0 977.7 L514.0 985.0 L516.0 983.1 L518.0 982.6 L520.0 967.8 L522.0 979.8 L524.0 978.2 L526.0 973.6 L528.0 979.4 L530.0 969.9 L532.0 980.5 L534.0 975.5 L536.0 970.2 L538.0 977.3 L540.0 973.1 L542.0 973.0 L544.0 966.8 L546.0 975.5 L548.0 980.0 L550.0 978.3 L552.0 966.7 L554.0 976.6 L556.0 976.4 L558.0 971.9 L560.0 964.9 L562.0 958.6 L564.0 960.1 L566.0 960.3 L568.0 962.0 L570.0 960.5 L572.0 951.9 L574.0 945.7 L576.0 950.3 L578.0 947.6 L580.0 960.3 L582.0 950.4 L584.0 958.0 L586.0 958.9 L588.0 949.9 L590.0 956.4 L592.0 949.7 L594.0 945.4 L596.0 943.9 L598.0 948.0 L600.0 951.5 L602.0 937.7 L604.0 946.6 L606.0 941.5 L608.0 937.5 L610.0 939.3 L612.0 938.9 L614.0 937.8 L616.0 940.2 L618.0 931.5 L620.0 942.3 L622.0 936.9 L624.0 930.6 L626.0 925.2 L628.0 933.0 L630.0 929.7 L632.0 931.6 L634.0 929.1 L636.0 933.7 L638.0 925.5 L640.0 928.8 L642.0 922.5 L644.0 922.3 L646.0 930.7 L648.0 923.8 L650.0 923.3 L652.0 921.3 L654.0 922.7 L656.0 922.0 L658.0 917.2 L660.0 911.8 L662.0 917.6 L664.0 912.0 L666.0 912.7 L668.0 913.6 L670.0 913.2 L672.0 902.9 L674.0 920.3 L676.0 915.4 L678.0 918.4 L680.0 919.1 L682.0 903.0 L684.0 903.5 L686.0 905.7 L688.0 907.3 L690.0 900.4 L692.0 901.6 L694.0 908.4 L696.0 900.3 L698.0 903.8 L700.0 905.9 L702.0 899.4 L704.0 903.6 L706.0 899.1 L708.0 891.3 L710.0 893.7 L712.0 893.5 L714.0 891.8 L716.0 892.3 L718.0 892.6 L720.0 891.6 L722.0 891.5 L724.0 889.3 L726.0 890.0 L728.0 888.7 L730.0 887.1 L732.0 894.6 L734.0 879.6 L736.0 887.4 L738.0 879.0 L740.0 883.5 L742.0 889.5 L744.0 883.7 L746.0 887.9 L748.0 874.7 L750.0 875.1 L752.0 872.9 L754.0 875.8 L756.0 874.8 L758.0 874.6 L760.0 876.1 L762.0 879.3 L764.0 874.4 L766.0 874.0 L768.0 873.0 L770.0 871.1 L772.0 866.7 L774.0 866.2 L776.0 868.1 L778.0 857.5 L780.0 867.1 L782.0 862.5 L784.0 860.8 L786.0 862.3 L788.0 866.5 L790.0 864.1 L792.0 862.5 L794.0 867.6 L796.0 868.7 L798.0 852.3 L800.0 861.1 L802.0 854.3 L804.0 851.7 L806.0 854.3 L808.0 858.9 L810.0 851.0 L812.0 848.5 L814.0 855.5 L816.0 851.3 L818.0 848.2 L820.0 854.8 L822.0 847.5 L824.0 840.9 L826.0 838.1 L828.0 839.6 L830.0 841.6 L832.0 845.4 L834.0 845.5 L836.0 841.6 L838.0 833.7 L840.0 839.8 L842.0 834.6 L844.0 829.2 L846.0 828.7 L848.0 834.7 L850.0 834.9 L852.0 836.7 L854.0 827.6 L856.0 839.8 L858.0 822.7 L860.0 829.6 L862.0 835.5 L864.0 834.5 L866.0 825.7 L868.0 831.2 L870.0 832.6 L872.0 829.0 L874.0 820.1 L876.0 829.7 L878.0 815.0 L880.0 822.3 L882.0 819.0 L884.0 823.3 L886.0 824.4 L888.0 826.9 L890.0 817.1 L892.0 820.5 L894.0 822.6 L896.0 815.9 L898.0 817.4 L900.0 816.8 L902.0 811.5 L904.0 812.8 L906.0 815.1 L908.0 817.9 L910.0 824.5 L912.0 821.5 L914.0 810.7 L916.0 808.8 L918.0 804.7 L920.0 798.0 L922.0 812.4 L924.0 808.3 L926.0 797.4 L928.0 805.4 L930.0 815.0 L932.0 806.7 L934.0 806.9 L936.0 806.2 L938.0 802.7 L940.0 801.6 L942.0 803.9 L944.0 808.6 L946.0 806.9 L948.0 810.2 L950.0 813.9 L952.0 808.1 L954.0 808.4 L956.0 802.8 L958.0 798.6 L960.0 813.3 L962.0 807.4 L964.0 809.4 L966.0 802.2 L968.0 795.6 L970.0 807.8 L972.0 793.5 L974.0 803.0 L976.0 802.4 L978.0 805.9 L980.0 808.5 L982.0 809.1 L984.0 797.9 L986.0 812.1 L988.0 800.2 L990.0 810.8 L992.0 804.9 L994.0 800.7 L996.0 802.4 L998.0 798.1 L1000.0 802.0 L1002.0 804.0 L1004.0 802.1 L1006.0 798.6 L1008.0 803.4 L1010.0 800.6 L1012.0 806.5 L1014.0 798.1 L1016.0 793.0 L1018.0 794.7 L1020.0 793.3 L1022.0 795.2 L1024.0 794.9 L1026.0 796.7 L1028.0 795.2 L1030.0 791.0 L1032.0 792.4 L1034.0 787.2 L1036.0 786.6 L1038.0 775.9 L1040.0 780.2 L1042.0 779.1 L1044.0 791.2 L1046.0 774.0 L1048.0 779.3 L1050.0 776.4 L1052.0 770.0 L1054.0 777.0 L1056.0 774.6 L1058.0 766.7 L1060.0 762.1 L1062.0 772.1 L1064.0 766.7 L1066.0 775.8 L1068.0 771.4 L1070.0 773.7 L1072.0 768.3 L1074.0 774.1 L1076.0 768.4 L1078.0 770.8 L1080.0 765.5 L1082.0 762.6 L1084.0 762.3 L1086.0 765.8 L1088.0 767.6 L1090.0 762.2 L1092.0 774.6 L1094.0 763.1 L1096.0 763.4 L1098.0 758.4 L1100.0 748.6 L1102.0 755.5 L1104.0 752.6 L1106.0 753.5 L1108.0 744.6 L1110.0 745.9 L1112.0 742.2 L1114.0 744.4 L1116.0 731.6 L1118.0 739.7 L1120.0 741.9 L1122.0 734.0 L1124.0 730.8 L1126.0 737.6 L1128.0 730.3 L1130.0 732.0 L1132.0 728.6 L1134.0 728.2 L1136.0 721.2 L1138.0 711.4 L1140.0 721.1 L1142.0 712.5 L1144.0 714.7 L1146.0 707.1 L1148.0 714.7 L1150.0 705.5 L1152.0 709.4 L1154.0 710.2 L1156.0 704.7 L1158.0 706.0 L1160.0 704.2 L1162.0 699.5 L1164.0 709.0 L1166.0 698.1 L1168.0 694.1 L1170.0 696.2 L1172.0 696.0 L1174.0 693.5 L1176.0 690.3 L1178.0 688.6 L1180.0 679.8 L1182.0 689.9 L1184.0 693.2 L1186.0 681.6 L1188.0 676.3 L1190.0 686.7 L1192.0 682.2 L1194.0 665.2 L1196.0 678.4 L1198.0 674.1 L1200.0 673.8 L1202.0 685.6 L1204.0 678.7 L1206.0 670.8 L1208.0 669.1 L1210.0 674.9 L1212.0 664.0 L1214.0 673.2 L1216.0 668.6 L1218.0 676.5 L1220.0 675.5 L1222.0 672.9 L1224.0 682.1 L1226.0 681.2 L1228.0 688.5 L1230.0 679.8 L1232.0 682.2 L1234.0 678.2 L1236.0 686.2 L1238.0 677.8 L1240.0 681.6 L1242.0 688.6 L1244.0 687.1 L1246.0 688.0 L1248.0 689.6 L1250.0 691.6 L1252.0 694.1 L1254.0 691.1 L1256.0 685.6 L1258.0 702.8 L1260.0 694.9 L1262.0 709.5 L1264.0 705.8 L1266.0 723.4 L1268.0 720.3 L1270.0 721.7 L1272.0 727.2 L1274.0 720.1 L1276.0 729.8 L1278.0 730.4 L1280.0 735.3 L1282.0 729.6 L1284.0 731.8 L1286.0 746.9 L1288.0 746.6 L1290.0 747.9 L1292.0 753.8 L1294.0 755.9 L1296.0 760.8 L1298.0 769.3 L1300.0 768.1 L1302.0 775.0 L1304.0 772.8 L1306.0 772.9 L1308.0 783.3 L1310.0 790.9 L1312.0 791.4 L1314.0 798.7 L1316.0 801.7 L1318.0 811.2 L1320.0 814.0 L1322.0 818.3 L1324.0 813.5 L1326.0 822.6 L1328.0 832.7 L1330.0 835.2 L1332.0 842.1 L1334.0 847.1 L1336.0 860.6 L1338.0 862.2 L1340.0 869.3 L1342.0 867.9 L1344.0 881.0 L1346.0 875.2 L1348.0 873.6 L1350.0 884.0 L1352.0 889.5 L1354.0 897.0 L1356.0 892.7 L1358.0 895.4 L1360.0 899.4 L1362.0 901.3 L1364.0 896.6 L1366.0 912.7 L1368.0 919.4 L1370.0 914.4 L1372.0 916.2 L1374.0 922.1 L1376.0 921.7 L1378.0 931.3 L1380.0 927.9 L1382.0 936.1 L1384.0 931.5 L1386.0 934.5 L1388.0 937.2 L1390.0 939.9 L1392.0 949.6 L1394.0 953.4 L1396.0 952.7 L1398.0 955.0 L1400.0 946.0 L1402.0 961.6 L1404.0 952.6 L1406.0 965.0 L1408.0 971.1 L1410.0 962.1 L1412.0 965.9 L1414.0 967.4 L1416.0 960.7 L1418.0 962.9 L1420.0 965.4 L1422.0 970.1 L1424.0 975.8 L1426.0 976.1 L1428.0 982.4 L1430.0 975.4 L1432.0 971.4 L1434.0 978.9 L1436.0 980.5 L1438.0 975.8 L1440.0 987.0 L1442.0 979.2 L1444.0 981.6 L1446.0 987.2 L1448.0 983.2 L1450.0 992.2 L1452.0 992.0 L1454.0 992.1 L1456.0 989.5 L1458.0 987.7 L1460.0 987.6 L1462.0 992.7 L1464.0 996.5 L1466.0 993.6 L1468.0 993.3 L1470.0 999.0 L1472.0 1003.2 L1474.0 993.4 L1476.0 999.0 L1478.0 1004.1 L1480.0 994.7 L1482.0 993.7 L1484.0 997.1 L1486.0 993.5 L1488.0 1000.6 L1490.0 995.0 L1492.0 999.6 L1494.0 1008.5 L1496.0 1003.8 L1498.0 995.0 L1500.0 998.6 L1502.0 1000.8 L1504.0 1005.9 L1506.0 999.7 L1508.0 1007.0 L1510.0 1010.9 L1512.0 1009.3 L1514.0 998.7 L1516.0 1000.7 L1518.0 1000.7 L1520.0 998.3 L1522.0 1009.0 L1524.0 998.8 L1526.0 997.0 L1528.0 1003.0 L1530.0 1002.3 L1532.0 1007.0 L1534.0 1006.9 L1536.0 999.6 L1538.0 992.3 L1540.0 1006.0 L1542.0 1008.1 L1544.0 1013.1 L1546.0 998.7 L1548.0 1000.6 L1550.0 1012.5 L1552.0 1013.0 L1554.0 1012.0 L1556.0 1006.8 L1558.0 1012.2 L1560.0 1003.0 L1562.0 998.3 L1564.0 1002.0 L1566.0 1002.3 L1568.0 1006.2 L1570.0 1008.9 L1572.0 997.3 L1574.0 1005.4 L1576.0 1004.8 L1578.0 996.1 L1580.0 1000.2 L1582.0 1001.9 L1584.0 1003.8 L1586.0 998.0 L1588.0 998.8 L1590.0 996.9 L1592.0 1003.8 L1594.0 1001.4 L1596.0 1000.7 L1598.0 1006.9 L1600.0 1005.0 L1602.0 1001.9 L1604.0 1011.9 L1606.0 1009.9 L1608.0 1006.7 L1610.0 1000.9 L1612.0 1012.2" stroke="#ff00ff" stroke-width="11.0"/>
<path d="M342.0 1114.0 L344.0 1112.5 L346.0 1116.5 L348.0 1107.5 L350.0 1119.1 L352.0 1110.4 L354.0 1107.0 L356.0 1117.9 L358.0 1120.1 L360.0 1114.1 L362.0 1112.4 L364.0 1116.4 L366.0 1113.4 L368.0 1115.4 L370.0 1123.8 L372.0 1119.3 L374.0 1118.3 L376.0 1118.7 L378.0 1115.9 L380.0 1119.0 L382.0 1119.4 L384.0 1114.3 L386.0 1115.4 L388.0 1123.1 L390.0 1112.9 L392.0 1109.5 L394.0 1119.5 L396.0 1112.4 L398.0 1109.5 L400.0 1118.4 L402.0 1113.0 L404.0 1115.3 L406.0 1118.4 L408.0 1115.5 L410.0 1111.4 L412.0 1111.2 L414.0 1110.2 L416.0 1116.9 L418.0 1108.3 L420.0 1109.0 L422.0 1120.6 L424.0 1110.0 L426.0 1118.3 L428.0 1117.1 L430.0 1110.6 L432.0 1105.2 L434.0 1113.2 L436.0 1114.3 L438.0 1115.7 L440.0 1112.3 L442.0 1117.4 L444.0 1118.3 L446.0 1108.2 L448.0 1119.2 L450.0 1114.1 L452.0 1110.0 L454.0 1109.5 L456.0 1117.7 L458.0 1113.3 L460.0 1100.8 L462.0 1108.0 L464.0 1106.9 L466.0 1106.9 L468.0 1105.4 L470.0 1100.5 L472.0 1108.6 L474.0 1100.0 L476.0 1103.1 L478.0 1104.3 L480.0 1105.3 L482.0 1110.7 L484.0 1107.3 L486.0 1102.2 L488.0 1102.1 L490.0 1104.7 L492.0 1109.8 L494.0 1104.7 L496.0 1104.0 L498.0 1100.8 L500.0 1100.5 L502.0 1102.3 L504.0 1093.8 L506.0 1108.1 L508.0 1097.0 L510.0 1096.6 L512.0 1104.0 L514.0 1099.7 L516.0 1099.4 L518.0 1096.7 L520.0 1092.9 L522.0 1101.5 L524.0 1107.0 L526.0 1097.8 L528.0 1105.1 L530.0 1092.6 L532.0 1094.2 L534.0 1100.8 L536.0 1098.8 L538.0 1100.0 L540.0 1091.8 L542.0 1089.2 L544.0 1084.8 L546.0 1087.3 L548.0 1088.3 L550.0 1087.8 L552.0 1095.6 L554.0 1091.2 L556.0 1084.3 L558.0 1100.9 L560.0 1084.3 L562.0 1080.6 L564.0 1091.0 L566.0 1092.0 L568.0 1083.8 L570.0 1083.7 L572.0 1086.7 L574.0 1096.0 L576.0 1089.2 L578.0 1085.2 L580.0 1085.7 L582.0 1088.3 L584.0 1075.5 L586.0 1078.6 L588.0 1074.1 L590.0 1089.2 L592.0 1088.0 L594.0 1083.8 L596.0 1077.9 L598.0 1080.5 L600.0 1069.6 L602.0 1081.0 L604.0 1074.8 L606.0 1074.1 L608.0 1075.7 L610.0 1077.6 L612.0 1083.1 L614.0 1084.9 L616.0 1083.0 L618.0 1076.1 L620.0 1080.3 L622.0 1075.1 L624.0 1079.8 L626.0 1070.5 L628.0 1061.7 L630.0 1069.4 L632.0 1078.2 L634.0 1069.2 L636.0 1065.4 L638.0 1069.9 L640.0 1068.6 L642.0 1069.1 L644.0 1065.6 L646.0 1068.1 L648.0 1067.7 L650.0 1062.7 L652.0 1059.0 L654.0 1062.8 L656.0 1065.3 L658.0 1063.6 L660.0 1062.8 L662.0 1062.3 L664.0 1070.0 L666.0 1059.0 L668.0 1061.0 L670.0 1063.6 L672.0 1054.5 L674.0 1054.8 L676.0 1057.6 L678.0 1059.5 L680.0 1052.5 L682.0 1052.0 L684.0 1051.0 L686.0 1045.8 L688.0 1054.6 L690.0 1047.1 L692.0 1039.8 L694.0 1046.2 L696.0 1039.5 L698.0 1042.2 L700.0 1045.7 L702.0 1040.9 L704.0 1048.7 L706.0 1038.3 L708.0 1046.1 L710.0 1047.3 L712.0 1050.5 L714.0 1047.2 L716.0 1043.0 L718.0 1041.0 L720.0 1039.0 L722.0 1042.8 L724.0 1034.0 L726.0 1037.7 L728.0 1034.1 L730.0 1035.4 L732.0 1034.3 L734.0 1045.1 L736.0 1032.6 L738.0 1034.5 L740.0 1032.6 L742.0 1032.1 L744.0 1029.5 L746.0 1027.2 L748.0 1027.8 L750.0 1016.2 L752.0 1021.5 L754.0 1014.9 L756.0 1019.8 L758.0 1014.0 L760.0 1016.8 L762.0 1023.0 L764.0 1030.3 L766.0 1026.0 L768.0 1022.5 L770.0 1024.3 L772.0 1012.5 L774.0 1007.3 L776.0 1014.6 L778.0 1015.1 L780.0 1020.7 L782.0 1022.8 L784.0 1006.0 L786.0 1020.5 L788.0 1016.5 L790.0 1014.2 L792.0 1013.5 L794.0 1023.2 L796.0 1013.5 L798.0 1010.4 L800.0 1012.2 L802.0 1005.5 L804.0 1012.5 L806.0 1009.1 L808.0 1010.3 L810.0 1010.4 L812.0 1004.1 L814.0 1012.7 L816.0 1001.3 L818.0 1008.4 L820.0 997.4 L822.0 1004.5 L824.0 998.2 L826.0 1000.4 L828.0 996.1 L830.0 988.5 L832.0 992.2 L834.0 996.9 L836.0 999.0 L838.0 989.5 L840.0 985.3 L842.0 989.2 L844.0 990.5 L846.0 987.8 L848.0 987.8 L850.0 996.4 L852.0 998.1 L854.0 997.4 L856.0 990.2 L858.0 994.4 L860.0 993.4 L862.0 988.3 L864.0 997.6 L866.0 993.3 L868.0 989.6 L870.0 996.7 L872.0 994.1 L874.0 995.1 L876.0 996.4 L878.0 993.3 L880.0 983.8 L882.0 986.5 L884.0 991.5 L886.0 983.2 L888.0 985.9 L890.0 987.1 L892.0 991.1 L894.0 989.4 L896.0 986.6 L898.0 981.7 L900.0 986.7 L902.0 985.7 L904.0 984.2 L906.0 992.4 L908.0 989.4 L910.0 982.7 L912.0 988.9 L914.0 980.5 L916.0 982.3 L918.0 972.2 L920.0 978.9 L922.0 976.8 L924.0 978.4 L926.0 975.3 L928.0 992.6 L930.0 983.3 L932.0 984.4 L934.0 986.2 L936.0 979.3 L938.0 981.6 L940.0 974.3 L942.0 981.3 L944.0 978.6 L946.0 982.9 L948.0 982.9 L950.0 976.7 L952.0 972.1 L954.0 972.1 L956.0 977.7 L958.0 976.8 L960.0 978.4 L962.0 969.9 L964.0 968.2 L966.0 976.6 L968.0 976.4 L970.0 973.6 L972.0 976.6 L974.0 974.2 L976.0 970.1 L978.0 971.2 L980.0 975.1 L982.0 974.3 L984.0 972.6 L986.0 980.8 L988.0 968.4 L990.0 968.5 L992.0 963.1 L994.0 966.6 L996.0 972.5 L998.0 974.9 L1000.0 973.0 L1002.0 975.4 L1004.0 972.8 L1006.0 962.7 L1008.0 955.7 L1010.0 980.5 L1012.0 977.4 L1014.0 976.4 L1016.0 969.5 L1018.0 968.8 L1020.0 976.3 L1022.0 957.2 L1024.0 968.4 L1026.0 975.1 L1028.0 972.6 L1030.0 974.5 L1032.0 969.4 L1034.0 979.2 L1036.0 965.0 L1038.0 964.3 L1040.0 971.7 L1042.0 976.8 L1044.0 970.4 L1046.0 975.0 L1048.0 968.3 L1050.0 965.3 L1052.0 975.4 L1054.0 975.4 L1056.0 975.4 L1058.0 967.7 L1060.0 964.8 L1062.0 963.8 L1064.0 966.0 L1066.0 967.5 L1068.0 966.2 L1070.0 957.9 L1072.0 964.5 L1074.0 962.6 L1076.0 961.4 L1078.0 960.3 L1080.0 959.4 L1082.0 962.0 L1084.0 958.6 L1086.0 958.1 L1088.0 954.0 L1090.0 958.5 L1092.0 956.5 L1094.0 948.5 L1096.0 959.4 L1098.0 955.1 L1100.0 958.1 L1102.0 951.2 L1104.0 949.5 L1106.0 949.1 L1108.0 946.4 L1110.0 943.1 L1112.0 936.6 L1114.0 951.4 L1116.0 936.3 L1118.0 940.7 L1120.0 944.5 L1122.0 944.2 L1124.0 945.3 L1126.0 945.1 L1128.0 944.9 L1130.0 938.3 L1132.0 947.5 L1134.0 930.2 L1136.0 934.5 L1138.0 930.2 L1140.0 927.1 L1142.0 928.8 L1144.0 932.6 L1146.0 922.1 L1148.0 920.4 L1150.0 925.2 L1152.0 923.5 L1154.0 928.7 L1156.0 924.5 L1158.0 921.4 L1160.0 918.7 L1162.0 919.4 L1164.0 915.2 L1166.0 907.4 L1168.0 910.5 L1170.0 908.0 L1172.0 907.1 L1174.0 905.9 L1176.0 913.5 L1178.0 906.7 L1180.0 905.2 L1182.0 897.1 L1184.0 894.7 L1186.0 897.0 L1188.0 898.3 L1190.0 895.8 L1192.0 897.4 L1194.0 903.0 L1196.0 899.2 L1198.0 891.5 L1200.0 891.9 L1202.0 889.9 L1204.0 893.4 L1206.0 888.5 L1208.0 893.7 L1210.0 897.4 L1212.0 893.2 L1214.0 887.0 L1216.0 886.2 L1218.0 888.3 L1220.0 890.6 L1222.0 894.5 L1224.0 892.8 L1226.0 888.3 L1228.0 898.4 L1230.0 892.0 L1232.0 892.8 L1234.0 894.7 L1236.0 891.5 L1238.0 895.9 L1240.0 898.9 L1242.0 902.8 L1244.0 900.0 L1246.0 888.5 L1248.0 902.0 L1250.0 904.8 L1252.0 908.4 L1254.0 905.6 L1256.0 913.3 L1258.0 910.0 L1260.0 911.1 L1262.0 910.4 L1264.0 901.0 L1266.0 910.6 L1268.0 910.5 L1270.0 908.0 L1272.0 915.8 L1274.0 918.4 L1276.0 917.9 L1278.0 922.3 L1280.0 924.4 L1282.0 928.9 L1284.0 929.0 L1286.0 936.4 L1288.0 929.2 L1290.0 938.4 L1292.0 934.5 L1294.0 942.4 L1296.0 950.4 L1298.0 951.5 L1300.0 952.9 L1302.0 954.9 L1304.0 962.7 L1306.0 953.9 L1308.0 966.0 L1310.0 960.1 L1312.0 968.4 L1314.0 974.8 L1316.0 974.4 L1318.0 982.5 L1320.0 987.8 L1322.0 982.8 L1324.0 990.3 L1326.0 992.3 L1328.0 989.3 L1330.0 1000.2 L1332.0 1000.9 L1334.0 1013.1 L1336.0 1006.8 L1338.0 1020.3 L1340.0 1013.8 L1342.0 1028.3 L1344.0 1027.8 L1346.0 1032.2 L1348.0 1036.2 L1350.0 1037.0 L1352.0 1039.1 L1354.0 1041.6 L1356.0 1035.6 L1358.0 1035.7 L1360.0 1033.5 L1362.0 1046.0 L1364.0 1052.6 L1366.0 1052.0 L1368.0 1051.6 L1370.0 1051.3 L1372.0 1053.0 L1374.0 1058.3 L1376.0 1064.6 L1378.0 1057.7 L1380.0 1069.0 L1382.0 1060.0 L1384.0 1066.1 L1386.0 1065.5 L1388.0 1068.9 L1390.0 1069.4 L1392.0 1072.9 L1394.0 1079.9 L1396.0 1077.7 L1398.0 1093.2 L1400.0 1081.9 L1402.0 1082.1 L1404.0 1084.0 L1406.0 1083.3 L1408.0 1078.4 L1410.0 1088.0 L1412.0 1090.6 L1414.0 1084.2 L1416.0 1092.2 L1418.0 1088.1 L1420.0 1093.0 L1422.0 1093.7 L1424.0 1093.3 L1426.0 1092.9 L1428.0 1088.4 L1430.0 1094.9 L1432.0 1089.1 L1434.0 1093.0 L1436.0 1095.8 L1438.0 1093.3 L1440.0 1091.5 L1442.0 1102.0 L1444.0 1096.8 L1446.0 1098.6 L1448.0 1097.2 L1450.0 1104.0 L1452.0 1098.6 L1454.0 1089.6 L1456.0 1103.0 L1458.0 1110.0 L1460.0 1110.4 L1462.0 1101.4 L1464.0 1104.3 L1466.0 1106.4 L1468.0 1109.3 L1470.0 1106.8 L1472.0 1101.8 L1474.0 1108.5 L1476.0 1106.7 L1478.0 1097.9 L1480.0 1101.6 L1482.0 1103.8 L1484.0 1102.5 L1486.0 1106.3 L1488.0 1110.9 L1490.0 1112.9 L1492.0 1111.2 L1494.0 1105.8 L1496.0 1113.9 L1498.0 1117.6 L1500.0 1120.7 L1502.0 1112.4 L1504.0 1111.8 L1506.0 1117.6 L1508.0 1117.9 L1510.0 1114.5 L1512.0 1117.8 L1514.0 1112.8 L1516.0 1118.4 L1518.0 1112.1 L1520.0 1114.8 L1522.0 1115.2 L1524.0 1114.3 L1526.0 1108.0 L1528.0 1114.2 L1530.0 1119.7 L1532.0 1117.4 L1534.0 1113.7 L1536.0 1114.7 L1538.0 1114.9 L1540.0 1116.0 L1542.0 1109.5 L1544.0 1112.8 L1546.0 1111.0 L1548.0 1109.1 L1550.0 1107.5 L1552.0 1114.2 L1554.0 1111.3 L1556.0 1124.2 L1558.0 1115.1 L1560.0 1114.5 L1562.0 1113.4 L1564.0 1123.1 L1566.0 1112.1 L1568.0 1116.2 L1570.0 1113.8 L1572.0 1116.3 L1574.0 1116.5 L1576.0 1121.3 L1578.0 1110.7 L1580.0 1116.4 L1582.0 1123.6 L1584.0 1115.9 L1586.0 1119.0 L1588.0 1116.9 L1590.0 1109.2 L1592.0 1118.4 L1594.0 1121.5 L1596.0 1111.9 L1598.0 1105.0 L1600.0 1115.7 L1602.0 1118.6 L1604.0 1125.5 L1606.0 1125.6 L1608.0 1118.4 L1610.0 1117.6 L1612.0 1105.7" stroke="#008000" stroke-width="10.0"/>
<path d="M342.0 1120.0 L345.0 1119.8 L348.0 1119.7 L351.0 1119.6 L354.0 1119.4 L357.0 1119.3 L360.0 1119.1 L363.0 1119.0 L366.0 1118.8 L369.0 1118.6 L372.0 1118.5 L375.0 1118.3 L378.0 1118.1 L381.0 1117.9 L384.0 1117.7 L387.0 1117.5 L390.0 1117.3 L393.0 1117.1 L396.0 1116.9 L399.0 1116.7 L402.0 1116.5 L405.0 1116.2 L408.0 1116.0 L411.0 1115.7 L414.0 1115.5 L417.0 1115.2 L420.0 1115.0 L423.0 1114.7 L426.0 1114.4 L429.0 1114.1 L432.0 1113.8 L435.0 1113.5 L438.0 1113.2 L441.0 1112.9 L444.0 1112.6 L447.0 1112.3 L450.0 1111.9 L453.0 1111.6 L456.0 1111.2 L459.0 1110.8 L462.0 1110.5 L465.0 1110.1 L468.0 1109.7 L471.0 1109.3 L474.0 1108.9 L477.0 1108.5 L480.0 1108.0 L483.0 1107.6 L486.0 1107.2 L489.0 1106.7 L492.0 1106.2 L495.0 1105.8 L498.0 1105.3 L501.0 1104.8 L504.0 1104.3 L507.0 1103.8 L510.0 1103.2 L513.0 1102.7 L516.0 1102.2 L519.0 1101.6 L522.0 1101.0 L525.0 1100.5 L528.0 1099.9 L531.0 1099.3 L534.0 1098.7 L537.0 1098.1 L540.0 1097.4 L543.0 1096.8 L546.0 1096.1 L549.0 1095.5 L552.0 1094.8 L555.0 1094.1 L558.0 1093.4 L561.0 1092.7 L564.0 1092.0 L567.0 1091.2 L570.0 1090.5 L573.0 1089.7 L576.0 1089.0 L579.0 1088.2 L582.0 1087.4 L585.0 1086.6 L588.0 1085.8 L591.0 1085.0 L594.0 1084.2 L597.0 1083.3 L600.0 1082.5 L603.0 1081.6 L606.0 1080.7 L609.0 1079.8 L612.0 1078.9 L615.0 1078.0 L618.0 1077.1 L621.0 1076.2 L624.0 1075.3 L627.0 1074.3 L630.0 1073.3 L633.0 1072.4 L636.0 1071.4 L639.0 1070.4 L642.0 1069.4 L645.0 1068.4 L648.0 1067.4 L651.0 1066.4 L654.0 1065.3 L657.0 1064.3 L660.0 1063.3 L663.0 1062.2 L666.0 1061.1 L669.0 1060.1 L672.0 1059.0 L675.0 1057.9 L678.0 1056.8 L681.0 1055.7 L684.0 1054.6 L687.0 1053.5 L690.0 1052.4 L693.0 1051.2 L696.0 1050.1 L699.0 1049.0 L702.0 1047.8 L705.0 1046.7 L708.0 1045.6 L711.0 1044.4 L714.0 1043.3 L717.0 1042.1 L720.0 1041.0 L723.0 1039.8 L726.0 1038.6 L729.0 1037.5 L732.0 1036.3 L735.0 1035.1 L738.0 1034.0 L741.0 1032.8 L744.0 1031.7 L747.0 1030.5 L750.0 1029.3 L753.0 1028.2 L756.0 1027.0 L759.0 1025.9 L762.0 1024.7 L765.0 1023.6 L768.0 1022.4 L771.0 1021.3 L774.0 1020.2 L777.0 1019.0 L780.0 1017.9 L783.0 1016.8 L786.0 1015.7 L789.0 1014.6 L792.0 1013.5 L795.0 1012.4 L798.0 1011.3 L801.0 1010.3 L804.0 1009.2 L807.0 1008.2 L810.0 1007.1 L813.0 1006.1 L816.0 1005.1 L819.0 1004.1 L822.0 1003.1 L825.0 1002.1 L828.0 1001.1 L831.0 1000.2 L834.0 999.3 L837.0 998.3 L840.0 997.4 L843.0 996.5 L846.0 995.7 L849.0 994.8 L852.0 993.9 L855.0 993.1 L858.0 992.3 L861.0 991.5 L864.0 990.7 L867.0 990.0 L870.0 989.2 L873.0 988.5 L876.0 987.8 L879.0 987.1 L882.0 986.5 L885.0 985.8 L888.0 985.2 L891.0 984.6 L894.0 984.1 L897.0 983.5 L900.0 983.0 L903.0 982.5 L906.0 982.0 L909.0 981.5 L912.0 981.1 L915.0 980.6 L918.0 980.2 L921.0 979.9 L924.0 979.5 L927.0 979.2 L930.0 978.9 L933.0 978.6 L936.0 978.4 L939.0 978.1 L942.0 977.9 L945.0 977.8 L948.0 977.6 L951.0 977.5 L954.0 977.4 L957.0 977.3 L960.0 977.2 L963.0 977.2 L966.0 977.2 L969.0 977.2 L972.0 977.3 L975.0 977.4 L978.0 977.5 L981.0 977.6 L984.0 977.7 L987.0 977.9 L990.0 978.1 L993.0 978.3 L996.0 978.6 L999.0 978.8 L1002.0 979.1 L1005.0 979.4 L1008.0 979.8 L1011.0 980.1 L1014.0 980.5 L1017.0 980.9 L1020.0 981.4 L1023.0 981.8 L1026.0 982.3 L1029.0 982.8 L1032.0 983.3 L1035.0 983.9 L1038.0 984.4 L1041.0 985.0 L1044.0 985.6 L1047.0 986.3 L1050.0 986.9 L1053.0 987.6 L1056.0 988.3 L1059.0 989.0 L1062.0 989.7 L1065.0 990.5 L1068.0 991.2 L1071.0 992.0 L1074.0 992.8 L1077.0 993.7 L1080.0 994.5 L1083.0 995.3 L1086.0 996.2 L1089.0 997.1 L1092.0 998.0 L1095.0 998.9 L1098.0 999.8 L1101.0 1000.8 L1104.0 1001.7 L1107.0 1002.7 L1110.0 1003.7 L1113.0 1004.7 L1116.0 1005.7 L1119.0 1006.7 L1122.0 1007.7 L1125.0 1008.8 L1128.0 1009.8 L1131.0 1010.9 L1134.0 1012.0 L1137.0 1013.0 L1140.0 1014.1 L1143.0 1015.2 L1146.0 1016.3 L1149.0 1017.4 L1152.0 1018.5 L1155.0 1019.7 L1158.0 1020.8 L1161.0 1021.9 L1164.0 1023.0 L1167.0 1024.2 L1170.0 1025.3 L1173.0 1026.5 L1176.0 1027.6 L1179.0 1028.8 L1182.0 1029.9 L1185.0 1031.1 L1188.0 1032.2 L1191.0 1033.4 L1194.0 1034.6 L1197.0 1035.7 L1200.0 1036.9 L1203.0 1038.0 L1206.0 1039.2 L1209.0 1040.4 L1212.0 1041.5 L1215.0 1042.7 L1218.0 1043.8 L1221.0 1045.0 L1224.0 1046.1 L1227.0 1047.2 L1230.0 1048.4 L1233.0 1049.5 L1236.0 1050.6 L1239.0 1051.7 L1242.0 1052.9 L1245.0 1054.0 L1248.0 1055.1 L1251.0 1056.2 L1254.0 1057.3 L1257.0 1058.4 L1260.0 1059.4 L1263.0 1060.5 L1266.0 1061.6 L1269.0 1062.6 L1272.0 1063.7 L1275.0 1064.7 L1278.0 1065.8 L1281.0 1066.8 L1284.0 1067.8 L1287.0 1068.8 L1290.0 1069.8 L1293.0 1070.8 L1296.0 1071.8 L1299.0 1072.7 L1302.0 1073.7 L1305.0 1074.7 L1308.0 1075.6 L1311.0 1076.5 L1314.0 1077.4 L1317.0 1078.4 L1320.0 1079.3 L1323.0 1080.1 L1326.0 1081.0 L1329.0 1081.9 L1332.0 1082.7 L1335.0 1083.6 L1338.0 1084.4 L1341.0 1085.3 L1344.0 1086.1 L1347.0 1086.9 L1350.0 1087.7 L1353.0 1088.4 L1356.0 1089.2 L1359.0 1090.0 L1362.0 1090.7 L1365.0 1091.5 L1368.0 1092.2 L1371.0 1092.9 L1374.0 1093.6 L1377.0 1094.3 L1380.0 1095.0 L1383.0 1095.6 L1386.0 1096.3 L1389.0 1096.9 L1392.0 1097.6 L1395.0 1098.2 L1398.0 1098.8 L1401.0 1099.4 L1404.0 1100.0 L1407.0 1100.6 L1410.0 1101.2 L1413.0 1101.7 L1416.0 1102.3 L1419.0 1102.8 L1422.0 1103.4 L1425.0 1103.9 L1428.0 1104.4 L1431.0 1104.9 L1434.0 1105.4 L1437.0 1105.9 L1440.0 1106.3 L1443.0 1106.8 L1446.0 1107.2 L1449.0 1107.7 L1452.0 1108.1 L1455.0 1108.5 L1458.0 1109.0 L1461.0 1109.4 L1464.0 1109.8 L1467.0 1110.2 L1470.0 1110.5 L1473.0 1110.9 L1476.0 1111.3 L1479.0 1111.6 L1482.0 1112.0 L1485.0 1112.3 L1488.0 1112.6 L1491.0 1113.0 L1494.0 1113.3 L1497.0 1113.6 L1500.0 1113.9 L1503.0 1114.2 L1506.0 1114.5 L1509.0 1114.7 L1512.0 1115.0 L1515.0 1115.3 L1518.0 1115.5 L1521.0 1115.8 L1524.0 1116.0 L1527.0 1116.3 L1530.0 1116.5 L1533.0 1116.7 L1536.0 1116.9 L1539.0 1117.1 L1542.0 1117.4 L1545.0 1117.6 L1548.0 1117.7 L1551.0 1117.9 L1554.0 1118.1 L1557.0 1118.3 L1560.0 1118.5 L1563.0 1118.7 L1566.0 1118.8 L1569.0 1119.0 L1572.0 1119.1 L1575.0 1119.3 L1578.0 1119.4 L1581.0 1119.6 L1584.0 1119.7 L1587.0 1119.9 L1590.0 1120.0 L1593.0 1120.1 L1596.0 1120.2 L1599.0 1120.3 L1602.0 1120.5 L1605.0 1120.6 L1608.0 1120.7 L1611.0 1120.8" stroke="#000080" stroke-width="9.5"/>
<path d="M342.0 1123.6 L345.0 1123.6 L348.0 1123.6 L351.0 1123.6 L354.0 1123.6 L357.0 1123.6 L360.0 1123.6 L363.0 1123.6 L366.0 1123.6 L369.0 1123.6 L372.0 1123.6 L375.0 1123.6 L378.0 1123.6 L381.0 1123.6 L384.0 1123.6 L387.0 1123.6 L390.0 1123.6 L393.0 1123.6 L396.0 1123.6 L399.0 1123.6 L402.0 1123.6 L405.0 1123.6 L408.0 1123.6 L411.0 1123.6 L414.0 1123.6 L417.0 1123.6 L420.0 1123.6 L423.0 1123.6 L426.0 1123.6 L429.0 1123.6 L432.0 1123.6 L435.0 1123.6 L438.0 1123.6 L441.0 1123.6 L444.0 1123.6 L447.0 1123.6 L450.0 1123.6 L453.0 1123.6 L456.0 1123.6 L459.0 1123.6 L462.0 1123.6 L465.0 1123.6 L468.0 1123.6 L471.0 1123.6 L474.0 1123.6 L477.0 1123.6 L480.0 1123.6 L483.0 1123.6 L486.0 1123.6 L489.0 1123.6 L492.0 1123.6 L495.0 1123.6 L498.0 1123.6 L501.0 1123.6 L504.0 1123.6 L507.0 1123.6 L510.0 1123.6 L513.0 1123.6 L516.0 1123.6 L519.0 1123.6 L522.0 1123.6 L525.0 1123.6 L528.0 1123.6 L531.0 1123.6 L534.0 1123.6 L537.0 1123.6 L540.0 1123.6 L543.0 1123.6 L546.0 1123.6 L549.0 1123.6 L552.0 1123.6 L555.0 1123.6 L558.0 1123.6 L561.0 1123.6 L564.0 1123.6 L567.0 1123.6 L570.0 1123.6 L573.0 1123.6 L576.0 1123.6 L579.0 1123.6 L582.0 1123.6 L585.0 1123.6 L588.0 1123.6 L591.0 1123.6 L594.0 1123.6 L597.0 1123.6 L600.0 1123.6 L603.0 1123.6 L606.0 1123.6 L609.0 1123.6 L612.0 1123.6 L615.0 1123.6 L618.0 1123.6 L621.0 1123.6 L624.0 1123.6 L627.0 1123.6 L630.0 1123.6 L633.0 1123.6 L636.0 1123.6 L639.0 1123.6 L642.0 1123.6 L645.0 1123.6 L648.0 1123.6 L651.0 1123.6 L654.0 1123.6 L657.0 1123.6 L660.0 1123.6 L663.0 1123.6 L666.0 1123.6 L669.0 1123.6 L672.0 1123.6 L675.0 1123.6 L678.0 1123.6 L681.0 1123.6 L684.0 1123.6 L687.0 1123.6 L690.0 1123.6 L693.0 1123.6 L696.0 1123.6 L699.0 1123.6 L702.0 1123.6 L705.0 1123.6 L708.0 1123.6 L711.0 1123.6 L714.0 1123.6 L717.0 1123.6 L720.0 1123.6 L723.0 1123.6 L726.0 1123.6 L729.0 1123.6 L732.0 1123.6 L735.0 1123.6 L738.0 1123.6 L741.0 1123.6 L744.0 1123.6 L747.0 1123.6 L750.0 1123.6 L753.0 1123.6 L756.0 1123.6 L759.0 1123.6 L762.0 1123.6 L765.0 1123.6 L768.0 1123.6 L771.0 1123.6 L774.0 1123.6 L777.0 1123.6 L780.0 1123.6 L783.0 1123.6 L786.0 1123.6 L789.0 1123.6 L792.0 1123.6 L795.0 1123.6 L798.0 1123.6 L801.0 1123.6 L804.0 1123.6 L807.0 1123.6 L810.0 1123.6 L813.0 1123.6 L816.0 1123.6 L819.0 1123.6 L822.0 1123.6 L825.0 1123.6 L828.0 1123.6 L831.0 1123.6 L834.0 1123.6 L837.0 1123.6 L840.0 1123.6 L843.0 1123.6 L846.0 1123.6 L849.0 1123.6 L852.0 1123.6 L855.0 1123.6 L858.0 1123.6 L861.0 1123.6 L864.0 1123.6 L867.0 1123.6 L870.0 1123.6 L873.0 1123.6 L876.0 1123.6 L879.0 1123.6 L882.0 1123.6 L885.0 1123.6 L888.0 1123.6 L891.0 1123.6 L894.0 1123.6 L897.0 1123.6 L900.0 1123.5 L903.0 1123.5 L906.0 1123.5 L909.0 1123.5 L912.0 1123.5 L915.0 1123.5 L918.0 1123.5 L921.0 1123.5 L924.0 1123.4 L927.0 1123.4 L930.0 1123.4 L933.0 1123.4 L936.0 1123.3 L939.0 1123.3 L942.0 1123.3 L945.0 1123.2 L948.0 1123.2 L951.0 1123.1 L954.0 1123.0 L957.0 1123.0 L960.0 1122.9 L963.0 1122.8 L966.0 1122.7 L969.0 1122.6 L972.0 1122.5 L975.0 1122.3 L978.0 1122.2 L981.0 1122.0 L984.0 1121.8 L987.0 1121.6 L990.0 1121.4 L993.0 1121.1 L996.0 1120.9 L999.0 1120.6 L1002.0 1120.3 L1005.0 1119.9 L1008.0 1119.5 L1011.0 1119.1 L1014.0 1118.7 L1017.0 1118.2 L1020.0 1117.6 L1023.0 1117.1 L1026.0 1116.4 L1029.0 1115.8 L1032.0 1115.0 L1035.0 1114.3 L1038.0 1113.4 L1041.0 1112.5 L1044.0 1111.6 L1047.0 1110.6 L1050.0 1109.5 L1053.0 1108.3 L1056.0 1107.1 L1059.0 1105.8 L1062.0 1104.4 L1065.0 1102.9 L1068.0 1101.4 L1071.0 1099.7 L1074.0 1098.0 L1077.0 1096.2 L1080.0 1094.3 L1083.0 1092.3 L1086.0 1090.2 L1089.0 1088.0 L1092.0 1085.7 L1095.0 1083.4 L1098.0 1080.9 L1101.0 1078.3 L1104.0 1075.7 L1107.0 1073.0 L1110.0 1070.2 L1113.0 1067.3 L1116.0 1064.3 L1119.0 1061.2 L1122.0 1058.1 L1125.0 1054.9 L1128.0 1051.7 L1131.0 1048.3 L1134.0 1045.0 L1137.0 1041.6 L1140.0 1038.2 L1143.0 1034.7 L1146.0 1031.2 L1149.0 1027.7 L1152.0 1024.2 L1155.0 1020.7 L1158.0 1017.3 L1161.0 1013.8 L1164.0 1010.4 L1167.0 1007.1 L1170.0 1003.8 L1173.0 1000.5 L1176.0 997.4 L1179.0 994.3 L1182.0 991.3 L1185.0 988.5 L1188.0 985.7 L1191.0 983.1 L1194.0 980.7 L1197.0 978.3 L1200.0 976.2 L1203.0 974.2 L1206.0 972.3 L1209.0 970.7 L1212.0 969.2 L1215.0 967.9 L1218.0 966.8 L1221.0 965.9 L1224.0 965.2 L1227.0 964.7 L1230.0 964.5 L1233.0 964.4 L1236.0 964.5 L1239.0 964.9 L1242.0 965.4 L1245.0 966.2 L1248.0 967.1 L1251.0 968.3 L1254.0 969.6 L1257.0 971.1 L1260.0 972.8 L1263.0 974.7 L1266.0 976.7 L1269.0 978.9 L1272.0 981.2 L1275.0 983.7 L1278.0 986.3 L1281.0 989.1 L1284.0 991.9 L1287.0 994.9 L1290.0 997.9 L1293.0 1001.1 L1296.0 1004.3 L1299.0 1007.6 L1302.0 1010.9 L1305.0 1014.3 L1308.0 1017.7 L1311.0 1021.2 L1314.0 1024.6 L1317.0 1028.1 L1320.0 1031.5 L1323.0 1035.0 L1326.0 1038.4 L1329.0 1041.8 L1332.0 1045.2 L1335.0 1048.5 L1338.0 1051.8 L1341.0 1055.0 L1344.0 1058.2 L1347.0 1061.3 L1350.0 1064.3 L1353.0 1067.3 L1356.0 1070.1 L1359.0 1072.9 L1362.0 1075.6 L1365.0 1078.3 L1368.0 1080.8 L1371.0 1083.2 L1374.0 1085.6 L1377.0 1087.9 L1380.0 1090.0 L1383.0 1092.1 L1386.0 1094.1 L1389.0 1096.0 L1392.0 1097.8 L1395.0 1099.5 L1398.0 1101.2 L1401.0 1102.7 L1404.0 1104.2 L1407.0 1105.6 L1410.0 1106.9 L1413.0 1108.1 L1416.0 1109.3 L1419.0 1110.4 L1422.0 1111.4 L1425.0 1112.4 L1428.0 1113.3 L1431.0 1114.1 L1434.0 1114.9 L1437.0 1115.6 L1440.0 1116.3 L1443.0 1116.9 L1446.0 1117.5 L1449.0 1118.0 L1452.0 1118.5 L1455.0 1119.0 L1458.0 1119.4 L1461.0 1119.8 L1464.0 1120.2 L1467.0 1120.5 L1470.0 1120.8 L1473.0 1121.1 L1476.0 1121.3 L1479.0 1121.5 L1482.0 1121.7 L1485.0 1121.9 L1488.0 1122.1 L1491.0 1122.3 L1494.0 1122.4 L1497.0 1122.5 L1500.0 1122.6 L1503.0 1122.8 L1506.0 1122.8 L1509.0 1122.9 L1512.0 1123.0 L1515.0 1123.1 L1518.0 1123.1 L1521.0 1123.2 L1524.0 1123.2 L1527.0 1123.3 L1530.0 1123.3 L1533.0 1123.4 L1536.0 1123.4 L1539.0 1123.4 L1542.0 1123.4 L1545.0 1123.5 L1548.0 1123.5 L1551.0 1123.5 L1554.0 1123.5 L1557.0 1123.5 L1560.0 1123.5 L1563.0 1123.5 L1566.0 1123.5 L1569.0 1123.6 L1572.0 1123.6 L1575.0 1123.6 L1578.0 1123.6 L1581.0 1123.6 L1584.0 1123.6 L1587.0 1123.6 L1590.0 1123.6 L1593.0 1123.6 L1596.0 1123.6 L1599.0 1123.6 L1602.0 1123.6 L1605.0 1123.6 L1608.0 1123.6 L1611.0 1123.6" stroke="#8800ff" stroke-width="9.5"/>
<path d="M342.0 1120.0 L345.0 1119.8 L348.0 1119.7 L351.0 1119.6 L354.0 1119.4 L357.0 1119.3 L360.0 1119.1 L363.0 1119.0 L366.0 1118.8 L369.0 1118.6 L372.0 1118.5 L375.0 1118.3 L378.0 1118.1 L381.0 1117.9 L384.0 1117.7 L387.0 1117.5 L390.0 1117.3 L393.0 1117.1 L396.0 1116.9 L399.0 1116.7 L402.0 1116.5 L405.0 1116.2 L408.0 1116.0 L411.0 1115.7 L414.0 1115.5 L417.0 1115.2 L420.0 1115.0 L423.0 1114.7 L426.0 1114.4 L429.0 1114.1 L432.0 1113.8 L435.0 1113.5 L438.0 1113.2 L441.0 1112.9 L444.0 1112.6 L447.0 1112.3 L450.0 1111.9 L453.0 1111.6 L456.0 1111.2 L459.0 1110.8 L462.0 1110.5 L465.0 1110.1 L468.0 1109.7 L471.0 1109.3 L474.0 1108.9 L477.0 1108.5 L480.0 1108.0 L483.0 1107.6 L486.0 1107.2 L489.0 1106.7 L492.0 1106.2 L495.0 1105.8 L498.0 1105.3 L501.0 1104.8 L504.0 1104.3 L507.0 1103.8 L510.0 1103.2 L513.0 1102.7 L516.0 1102.2 L519.0 1101.6 L522.0 1101.0 L525.0 1100.5 L528.0 1099.9 L531.0 1099.3 L534.0 1098.7 L537.0 1098.1 L540.0 1097.4 L543.0 1096.8 L546.0 1096.1 L549.0 1095.5 L552.0 1094.8 L555.0 1094.1 L558.0 1093.4 L561.0 1092.7 L564.0 1092.0 L567.0 1091.2 L570.0 1090.5 L573.0 1089.7 L576.0 1089.0 L579.0 1088.2 L582.0 1087.4 L585.0 1086.6 L588.0 1085.8 L591.0 1085.0 L594.0 1084.2 L597.0 1083.3 L600.0 1082.5 L603.0 1081.6 L606.0 1080.7 L609.0 1079.8 L612.0 1078.9 L615.0 1078.0 L618.0 1077.1 L621.0 1076.2 L624.0 1075.3 L627.0 1074.3 L630.0 1073.3 L633.0 1072.4 L636.0 1071.4 L639.0 1070.4 L642.0 1069.4 L645.0 1068.4 L648.0 1067.4 L651.0 1066.4 L654.0 1065.3 L657.0 1064.3 L660.0 1063.3 L663.0 1062.2 L666.0 1061.1 L669.0 1060.1 L672.0 1059.0 L675.0 1057.9 L678.0 1056.8 L681.0 1055.7 L684.0 1054.6 L687.0 1053.5 L690.0 1052.4 L693.0 1051.2 L696.0 1050.1 L699.0 1049.0 L702.0 1047.8 L705.0 1046.7 L708.0 1045.6 L711.0 1044.4 L714.0 1043.3 L717.0 1042.1 L720.0 1041.0 L723.0 1039.8 L726.0 1038.6 L729.0 1037.5 L732.0 1036.3 L735.0 1035.1 L738.0 1034.0 L741.0 1032.8 L744.0 1031.7 L747.0 1030.5 L750.0 1029.3 L753.0 1028.2 L756.0 1027.0 L759.0 1025.9 L762.0 1024.7 L765.0 1023.6 L768.0 1022.4 L771.0 1021.3 L774.0 1020.2 L777.0 1019.0 L780.0 1017.9 L783.0 1016.8 L786.0 1015.7 L789.0 1014.6 L792.0 1013.5 L795.0 1012.4 L798.0 1011.3 L801.0 1010.3 L804.0 1009.2 L807.0 1008.2 L810.0 1007.1 L813.0 1006.1 L816.0 1005.1 L819.0 1004.1 L822.0 1003.1 L825.0 1002.1 L828.0 1001.1 L831.0 1000.2 L834.0 999.3 L837.0 998.3 L840.0 997.4 L843.0 996.5 L846.0 995.7 L849.0 994.8 L852.0 993.9 L855.0 993.1 L858.0 992.3 L861.0 991.5 L864.0 990.7 L867.0 990.0 L870.0 989.2 L873.0 988.5 L876.0 987.8 L879.0 987.1 L882.0 986.5 L885.0 985.8 L888.0 985.2 L891.0 984.6 L894.0 984.0 L897.0 983.5 L900.0 982.9 L903.0 982.4 L906.0 981.9 L909.0 981.4 L912.0 981.0 L915.0 980.5 L918.0 980.1 L921.0 979.7 L924.0 979.4 L927.0 979.0 L930.0 978.7 L933.0 978.4 L936.0 978.1 L939.0 977.8 L942.0 977.6 L945.0 977.4 L948.0 977.2 L951.0 977.0 L954.0 976.8 L957.0 976.7 L960.0 976.5 L963.0 976.4 L966.0 976.3 L969.0 976.2 L972.0 976.1 L975.0 976.1 L978.0 976.0 L981.0 976.0 L984.0 975.9 L987.0 975.9 L990.0 975.9 L993.0 975.9 L996.0 975.8 L999.0 975.8 L1002.0 975.8 L1005.0 975.7 L1008.0 975.7 L1011.0 975.7 L1014.0 975.6 L1017.0 975.5 L1020.0 975.4 L1023.0 975.3 L1026.0 975.1 L1029.0 975.0 L1032.0 974.8 L1035.0 974.6 L1038.0 974.3 L1041.0 974.0 L1044.0 973.6 L1047.0 973.2 L1050.0 972.8 L1053.0 972.3 L1056.0 971.8 L1059.0 971.2 L1062.0 970.5 L1065.0 969.8 L1068.0 969.0 L1071.0 968.2 L1074.0 967.2 L1077.0 966.2 L1080.0 965.2 L1083.0 964.0 L1086.0 962.8 L1089.0 961.5 L1092.0 960.1 L1095.0 958.7 L1098.0 957.1 L1101.0 955.5 L1104.0 953.8 L1107.0 952.1 L1110.0 950.2 L1113.0 948.3 L1116.0 946.4 L1119.0 944.3 L1122.0 942.2 L1125.0 940.1 L1128.0 937.9 L1131.0 935.6 L1134.0 933.3 L1137.0 931.0 L1140.0 928.7 L1143.0 926.3 L1146.0 923.9 L1149.0 921.5 L1152.0 919.2 L1155.0 916.8 L1158.0 914.4 L1161.0 912.1 L1164.0 909.9 L1167.0 907.6 L1170.0 905.5 L1173.0 903.4 L1176.0 901.4 L1179.0 899.5 L1182.0 897.7 L1185.0 896.0 L1188.0 894.4 L1191.0 892.9 L1194.0 891.6 L1197.0 890.5 L1200.0 889.4 L1203.0 888.6 L1206.0 887.9 L1209.0 887.4 L1212.0 887.1 L1215.0 887.0 L1218.0 887.0 L1221.0 887.3 L1224.0 887.7 L1227.0 888.4 L1230.0 889.2 L1233.0 890.3 L1236.0 891.6 L1239.0 893.0 L1242.0 894.7 L1245.0 896.5 L1248.0 898.6 L1251.0 900.8 L1254.0 903.3 L1257.0 905.9 L1260.0 908.6 L1263.0 911.6 L1266.0 914.7 L1269.0 917.9 L1272.0 921.3 L1275.0 924.8 L1278.0 928.5 L1281.0 932.2 L1284.0 936.1 L1287.0 940.1 L1290.0 944.1 L1293.0 948.3 L1296.0 952.5 L1299.0 956.7 L1302.0 961.0 L1305.0 965.4 L1308.0 969.7 L1311.0 974.1 L1314.0 978.5 L1317.0 982.8 L1320.0 987.2 L1323.0 991.5 L1326.0 995.8 L1329.0 1000.1 L1332.0 1004.3 L1335.0 1008.5 L1338.0 1012.6 L1341.0 1016.7 L1344.0 1020.7 L1347.0 1024.6 L1350.0 1028.4 L1353.0 1032.1 L1356.0 1035.7 L1359.0 1039.3 L1362.0 1042.8 L1365.0 1046.1 L1368.0 1049.4 L1371.0 1052.5 L1374.0 1055.6 L1377.0 1058.5 L1380.0 1061.4 L1383.0 1064.1 L1386.0 1066.8 L1389.0 1069.3 L1392.0 1071.8 L1395.0 1074.1 L1398.0 1076.4 L1401.0 1078.5 L1404.0 1080.6 L1407.0 1082.6 L1410.0 1084.5 L1413.0 1086.3 L1416.0 1088.0 L1419.0 1089.6 L1422.0 1091.2 L1425.0 1092.6 L1428.0 1094.1 L1431.0 1095.4 L1434.0 1096.7 L1437.0 1097.9 L1440.0 1099.0 L1443.0 1100.1 L1446.0 1101.1 L1449.0 1102.1 L1452.0 1103.1 L1455.0 1103.9 L1458.0 1104.8 L1461.0 1105.6 L1464.0 1106.3 L1467.0 1107.0 L1470.0 1107.7 L1473.0 1108.4 L1476.0 1109.0 L1479.0 1109.6 L1482.0 1110.1 L1485.0 1110.6 L1488.0 1111.1 L1491.0 1111.6 L1494.0 1112.1 L1497.0 1112.5 L1500.0 1112.9 L1503.0 1113.3 L1506.0 1113.7 L1509.0 1114.1 L1512.0 1114.4 L1515.0 1114.7 L1518.0 1115.1 L1521.0 1115.4 L1524.0 1115.6 L1527.0 1115.9 L1530.0 1116.2 L1533.0 1116.5 L1536.0 1116.7 L1539.0 1117.0 L1542.0 1117.2 L1545.0 1117.4 L1548.0 1117.6 L1551.0 1117.8 L1554.0 1118.0 L1557.0 1118.2 L1560.0 1118.4 L1563.0 1118.6 L1566.0 1118.8 L1569.0 1118.9 L1572.0 1119.1 L1575.0 1119.3 L1578.0 1119.4 L1581.0 1119.6 L1584.0 1119.7 L1587.0 1119.8 L1590.0 1120.0 L1593.0 1120.1 L1596.0 1120.2 L1599.0 1120.3 L1602.0 1120.5 L1605.0 1120.6 L1608.0 1120.7 L1611.0 1120.8" stroke="#8e0083" stroke-width="9.8"/>
</g>
<g stroke="#000" stroke-width="5.5" stroke-linecap="butt">
<line x1="342.0" y1="1226" x2="342.0" y2="1202.0"/>
<line x1="342.0" y1="20" x2="342.0" y2="44.0"/>
<line x1="500.9" y1="1226" x2="500.9" y2="1214.0"/>
<line x1="500.9" y1="20" x2="500.9" y2="32.0"/>
<line x1="659.9" y1="1226" x2="659.9" y2="1202.0"/>
<line x1="659.9" y1="20" x2="659.9" y2="44.0"/>
<line x1="818.8" y1="1226" x2="818.8" y2="1214.0"/>
<line x1="818.8" y1="20" x2="818.8" y2="32.0"/>
<line x1="977.8" y1="1226" x2="977.8" y2="1202.0"/>
<line x1="977.8" y1="20" x2="977.8" y2="44.0"/>
<line x1="1136.8" y1="1226" x2="1136.8" y2="1214.0"/>
<line x1="1136.8" y1="20" x2="1136.8" y2="32.0"/>
<line x1="1295.7" y1="1226" x2="1295.7" y2="1202.0"/>
<line x1="1295.7" y1="20" x2="1295.7" y2="44.0"/>
<line x1="1454.6" y1="1226" x2="1454.6" y2="1214.0"/>
<line x1="1454.6" y1="20" x2="1454.6" y2="32.0"/>
<line x1="1613.6" y1="1226" x2="1613.6" y2="1202.0"/>
<line x1="1613.6" y1="20" x2="1613.6" y2="44.0"/>
</g>
<g fill="none" stroke="#000" stroke-linecap="square">
<line x1="182.5" y1="18" x2="182.5" y2="1228.5" stroke-width="5"/>
<line x1="1771.5" y1="18" x2="1771.5" y2="1228.5" stroke-width="5"/>
<line x1="182.5" y1="18" x2="1771.5" y2="18" stroke-width="4"/>
<line x1="182.5" y1="1228.5" x2="1771.5" y2="1228.5" stroke-width="5"/>
</g>
<g transform="matrix(0.9798 0 0 1.0364 6.90 -46.92)"><text x="342.5" y="1293" text-anchor="middle" font-size="50">1000</text></g>
<g transform="matrix(0.9819 0 0 1.0364 11.92 -46.92)"><text x="660.4" y="1293" text-anchor="middle" font-size="50">1200</text></g>
<g transform="matrix(0.9925 0 0 1.0364 7.67 -46.92)"><text x="978.3" y="1293" text-anchor="middle" font-size="50">1400</text></g>
<g transform="matrix(0.9892 0 0 1.0364 14.15 -46.92)"><text x="1296.2" y="1293" text-anchor="middle" font-size="50">1600</text></g>
<g transform="matrix(0.9787 0 0 1.0364 34.46 -46.92)"><text x="1614.1" y="1293" text-anchor="middle" font-size="50">1800</text></g>
<g transform="matrix(0.9536 0 0 1.0302 73.21 -20.89)"><text x="1641" y="690.5" font-size="66">2%</text></g>
<g transform="matrix(0.9451 0 0 1.0279 86.29 -22.72)"><text x="1645" y="813.7" font-size="66">5%</text></g>
<g transform="matrix(0.9223 0 0 1.0233 121.24 -20.45)"><text x="1631.7" y="918" font-size="66">10%</text></g>
<g transform="matrix(0.9150 0 0 1.0326 133.70 -32.04)"><text x="1629.6" y="1018.2" font-size="66">15%</text></g>
<g transform="matrix(0.9414 0 0 1.0326 92.10 -35.89)"><text x="1621.2" y="1136.3" font-size="66">20%</text></g>
<g transform="matrix(1.0071 0 0 0.9837 -8.54 17.29)"><text x="926.8" y="1061.7" font-size="65">D</text></g>
<g transform="matrix(1.0070 0 0 1.0442 -11.94 -45.02)"><text x="1221" y="1028" font-size="66">G</text></g>
<g transform="matrix(0.9876 0 0 1.0345 7.24 -48.08)"><text x="749" y="1400" font-size="62">Raman shift (cm</text></g>
<g transform="matrix(0.8964 0 0 1.0080 118.83 -10.55)"><text x="1156" y="1369.4" font-size="37">-1</text></g>
<g transform="matrix(1.0500 0 0 1.0345 -60.60 -49.11)"><text x="1186" y="1400" font-size="62">)</text></g>
<g transform="matrix(0.9897 0 0 0.9940 -0.86 6.89)"><text transform="translate(86.5,856) rotate(-90)" font-size="63">Intensity (arb.unites)</text></g>
</svg>
</body></html>
